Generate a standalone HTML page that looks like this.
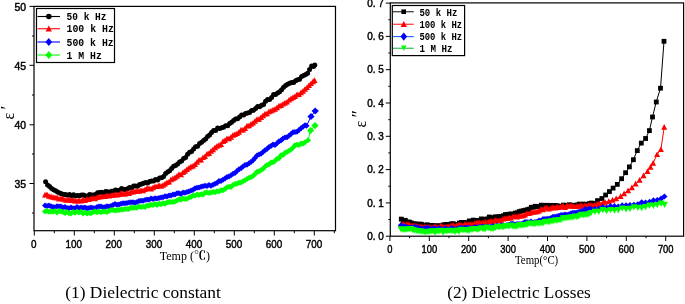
<!DOCTYPE html>
<html><head><meta charset="utf-8"><title>Dielectric constant and losses</title>
<style>html,body{margin:0;padding:0;background:#fff}svg{display:block}</style></head>
<body>
<svg width="685" height="304" viewBox="0 0 685 304">
<rect width="685" height="304" fill="#fff"/>
<g>
<path d="M45.6 181.8 L47.6 185.0 L49.6 186.4 L51.6 188.6 L53.6 189.7 L55.6 190.8 L57.6 192.0 L59.6 193.0 L61.6 193.8 L63.6 194.5 L65.6 194.5 L67.6 195.2 L69.6 194.6 L71.6 196.1 L73.6 194.8 L75.6 196.1 L77.6 195.5 L79.6 195.7 L81.6 194.9 L83.6 194.9 L85.6 195.9 L87.6 196.1 L89.6 194.6 L91.6 194.9 L93.6 194.9 L95.6 194.6 L97.6 192.8 L99.6 192.4 L101.6 192.3 L103.6 193.2 L105.6 191.5 L107.6 191.7 L109.6 192.3 L111.6 191.2 L113.6 191.1 L115.6 190.1 L117.6 190.4 L119.6 190.3 L121.6 188.4 L123.6 189.4 L125.6 189.5 L127.6 188.7 L129.6 187.5 L131.6 187.9 L133.6 186.0 L135.6 186.1 L137.6 186.3 L139.6 184.6 L141.6 184.0 L143.6 183.2 L145.6 182.4 L147.6 183.0 L149.6 181.6 L151.6 181.1 L153.6 180.9 L155.6 179.5 L157.6 179.9 L159.6 178.0 L161.6 177.7 L163.6 176.6 L165.6 173.5 L167.6 172.1 L169.6 170.8 L171.6 168.6 L173.6 166.2 L175.6 165.4 L177.6 163.9 L179.6 161.9 L181.6 161.0 L183.6 158.6 L185.6 157.5 L187.6 154.2 L189.6 152.3 L191.6 151.6 L193.6 148.9 L195.6 146.7 L197.6 146.2 L199.6 143.4 L201.6 142.3 L203.6 140.5 L205.6 138.9 L207.6 136.6 L209.6 135.0 L211.6 132.4 L213.6 130.6 L215.6 130.4 L217.6 128.1 L219.6 128.6 L221.6 127.7 L223.6 127.3 L225.6 125.7 L227.6 125.8 L229.6 123.5 L231.6 122.3 L233.6 120.6 L235.6 118.9 L237.6 118.7 L239.6 117.1 L241.6 115.0 L243.6 115.1 L245.6 113.6 L247.6 113.0 L249.6 112.6 L251.6 110.5 L253.6 110.3 L255.6 108.6 L257.6 106.4 L259.6 106.8 L261.6 105.2 L263.6 104.4 L265.6 101.3 L267.6 99.6 L269.6 99.4 L271.6 97.4 L273.6 94.6 L275.6 94.4 L277.6 92.9 L279.6 91.7 L281.6 89.8 L283.6 87.2 L285.6 85.6 L287.6 84.3 L289.6 83.2 L291.6 82.5 L293.6 82.5 L295.6 80.8 L297.6 79.7 L299.6 79.2 L301.6 76.5 L303.6 75.5 L305.6 74.6 L307.6 73.2 L309.6 69.4 L311.6 66.1 L313.6 66.6 L314.8 65.0" fill="none" stroke="#000" stroke-width="1"/>
<circle cx="45.6" cy="181.8" r="2.5" fill="#000"/>
<circle cx="47.6" cy="185.0" r="2.5" fill="#000"/>
<circle cx="49.6" cy="186.4" r="2.5" fill="#000"/>
<circle cx="51.6" cy="188.6" r="2.5" fill="#000"/>
<circle cx="53.6" cy="189.7" r="2.5" fill="#000"/>
<circle cx="55.6" cy="190.8" r="2.5" fill="#000"/>
<circle cx="57.6" cy="192.0" r="2.5" fill="#000"/>
<circle cx="59.6" cy="193.0" r="2.5" fill="#000"/>
<circle cx="61.6" cy="193.8" r="2.5" fill="#000"/>
<circle cx="63.6" cy="194.5" r="2.5" fill="#000"/>
<circle cx="65.6" cy="194.5" r="2.5" fill="#000"/>
<circle cx="67.6" cy="195.2" r="2.5" fill="#000"/>
<circle cx="69.6" cy="194.6" r="2.5" fill="#000"/>
<circle cx="71.6" cy="196.1" r="2.5" fill="#000"/>
<circle cx="73.6" cy="194.8" r="2.5" fill="#000"/>
<circle cx="75.6" cy="196.1" r="2.5" fill="#000"/>
<circle cx="77.6" cy="195.5" r="2.5" fill="#000"/>
<circle cx="79.6" cy="195.7" r="2.5" fill="#000"/>
<circle cx="81.6" cy="194.9" r="2.5" fill="#000"/>
<circle cx="83.6" cy="194.9" r="2.5" fill="#000"/>
<circle cx="85.6" cy="195.9" r="2.5" fill="#000"/>
<circle cx="87.6" cy="196.1" r="2.5" fill="#000"/>
<circle cx="89.6" cy="194.6" r="2.5" fill="#000"/>
<circle cx="91.6" cy="194.9" r="2.5" fill="#000"/>
<circle cx="93.6" cy="194.9" r="2.5" fill="#000"/>
<circle cx="95.6" cy="194.6" r="2.5" fill="#000"/>
<circle cx="97.6" cy="192.8" r="2.5" fill="#000"/>
<circle cx="99.6" cy="192.4" r="2.5" fill="#000"/>
<circle cx="101.6" cy="192.3" r="2.5" fill="#000"/>
<circle cx="103.6" cy="193.2" r="2.5" fill="#000"/>
<circle cx="105.6" cy="191.5" r="2.5" fill="#000"/>
<circle cx="107.6" cy="191.7" r="2.5" fill="#000"/>
<circle cx="109.6" cy="192.3" r="2.5" fill="#000"/>
<circle cx="111.6" cy="191.2" r="2.5" fill="#000"/>
<circle cx="113.6" cy="191.1" r="2.5" fill="#000"/>
<circle cx="115.6" cy="190.1" r="2.5" fill="#000"/>
<circle cx="117.6" cy="190.4" r="2.5" fill="#000"/>
<circle cx="119.6" cy="190.3" r="2.5" fill="#000"/>
<circle cx="121.6" cy="188.4" r="2.5" fill="#000"/>
<circle cx="123.6" cy="189.4" r="2.5" fill="#000"/>
<circle cx="125.6" cy="189.5" r="2.5" fill="#000"/>
<circle cx="127.6" cy="188.7" r="2.5" fill="#000"/>
<circle cx="129.6" cy="187.5" r="2.5" fill="#000"/>
<circle cx="131.6" cy="187.9" r="2.5" fill="#000"/>
<circle cx="133.6" cy="186.0" r="2.5" fill="#000"/>
<circle cx="135.6" cy="186.1" r="2.5" fill="#000"/>
<circle cx="137.6" cy="186.3" r="2.5" fill="#000"/>
<circle cx="139.6" cy="184.6" r="2.5" fill="#000"/>
<circle cx="141.6" cy="184.0" r="2.5" fill="#000"/>
<circle cx="143.6" cy="183.2" r="2.5" fill="#000"/>
<circle cx="145.6" cy="182.4" r="2.5" fill="#000"/>
<circle cx="147.6" cy="183.0" r="2.5" fill="#000"/>
<circle cx="149.6" cy="181.6" r="2.5" fill="#000"/>
<circle cx="151.6" cy="181.1" r="2.5" fill="#000"/>
<circle cx="153.6" cy="180.9" r="2.5" fill="#000"/>
<circle cx="155.6" cy="179.5" r="2.5" fill="#000"/>
<circle cx="157.6" cy="179.9" r="2.5" fill="#000"/>
<circle cx="159.6" cy="178.0" r="2.5" fill="#000"/>
<circle cx="161.6" cy="177.7" r="2.5" fill="#000"/>
<circle cx="163.6" cy="176.6" r="2.5" fill="#000"/>
<circle cx="165.6" cy="173.5" r="2.5" fill="#000"/>
<circle cx="167.6" cy="172.1" r="2.5" fill="#000"/>
<circle cx="169.6" cy="170.8" r="2.5" fill="#000"/>
<circle cx="171.6" cy="168.6" r="2.5" fill="#000"/>
<circle cx="173.6" cy="166.2" r="2.5" fill="#000"/>
<circle cx="175.6" cy="165.4" r="2.5" fill="#000"/>
<circle cx="177.6" cy="163.9" r="2.5" fill="#000"/>
<circle cx="179.6" cy="161.9" r="2.5" fill="#000"/>
<circle cx="181.6" cy="161.0" r="2.5" fill="#000"/>
<circle cx="183.6" cy="158.6" r="2.5" fill="#000"/>
<circle cx="185.6" cy="157.5" r="2.5" fill="#000"/>
<circle cx="187.6" cy="154.2" r="2.5" fill="#000"/>
<circle cx="189.6" cy="152.3" r="2.5" fill="#000"/>
<circle cx="191.6" cy="151.6" r="2.5" fill="#000"/>
<circle cx="193.6" cy="148.9" r="2.5" fill="#000"/>
<circle cx="195.6" cy="146.7" r="2.5" fill="#000"/>
<circle cx="197.6" cy="146.2" r="2.5" fill="#000"/>
<circle cx="199.6" cy="143.4" r="2.5" fill="#000"/>
<circle cx="201.6" cy="142.3" r="2.5" fill="#000"/>
<circle cx="203.6" cy="140.5" r="2.5" fill="#000"/>
<circle cx="205.6" cy="138.9" r="2.5" fill="#000"/>
<circle cx="207.6" cy="136.6" r="2.5" fill="#000"/>
<circle cx="209.6" cy="135.0" r="2.5" fill="#000"/>
<circle cx="211.6" cy="132.4" r="2.5" fill="#000"/>
<circle cx="213.6" cy="130.6" r="2.5" fill="#000"/>
<circle cx="215.6" cy="130.4" r="2.5" fill="#000"/>
<circle cx="217.6" cy="128.1" r="2.5" fill="#000"/>
<circle cx="219.6" cy="128.6" r="2.5" fill="#000"/>
<circle cx="221.6" cy="127.7" r="2.5" fill="#000"/>
<circle cx="223.6" cy="127.3" r="2.5" fill="#000"/>
<circle cx="225.6" cy="125.7" r="2.5" fill="#000"/>
<circle cx="227.6" cy="125.8" r="2.5" fill="#000"/>
<circle cx="229.6" cy="123.5" r="2.5" fill="#000"/>
<circle cx="231.6" cy="122.3" r="2.5" fill="#000"/>
<circle cx="233.6" cy="120.6" r="2.5" fill="#000"/>
<circle cx="235.6" cy="118.9" r="2.5" fill="#000"/>
<circle cx="237.6" cy="118.7" r="2.5" fill="#000"/>
<circle cx="239.6" cy="117.1" r="2.5" fill="#000"/>
<circle cx="241.6" cy="115.0" r="2.5" fill="#000"/>
<circle cx="243.6" cy="115.1" r="2.5" fill="#000"/>
<circle cx="245.6" cy="113.6" r="2.5" fill="#000"/>
<circle cx="247.6" cy="113.0" r="2.5" fill="#000"/>
<circle cx="249.6" cy="112.6" r="2.5" fill="#000"/>
<circle cx="251.6" cy="110.5" r="2.5" fill="#000"/>
<circle cx="253.6" cy="110.3" r="2.5" fill="#000"/>
<circle cx="255.6" cy="108.6" r="2.5" fill="#000"/>
<circle cx="257.6" cy="106.4" r="2.5" fill="#000"/>
<circle cx="259.6" cy="106.8" r="2.5" fill="#000"/>
<circle cx="261.6" cy="105.2" r="2.5" fill="#000"/>
<circle cx="263.6" cy="104.4" r="2.5" fill="#000"/>
<circle cx="265.6" cy="101.3" r="2.5" fill="#000"/>
<circle cx="267.6" cy="99.6" r="2.5" fill="#000"/>
<circle cx="269.6" cy="99.4" r="2.5" fill="#000"/>
<circle cx="271.6" cy="97.4" r="2.5" fill="#000"/>
<circle cx="273.6" cy="94.6" r="2.5" fill="#000"/>
<circle cx="275.6" cy="94.4" r="2.5" fill="#000"/>
<circle cx="277.6" cy="92.9" r="2.5" fill="#000"/>
<circle cx="279.6" cy="91.7" r="2.5" fill="#000"/>
<circle cx="281.6" cy="89.8" r="2.5" fill="#000"/>
<circle cx="283.6" cy="87.2" r="2.5" fill="#000"/>
<circle cx="285.6" cy="85.6" r="2.5" fill="#000"/>
<circle cx="287.6" cy="84.3" r="2.5" fill="#000"/>
<circle cx="289.6" cy="83.2" r="2.5" fill="#000"/>
<circle cx="291.6" cy="82.5" r="2.5" fill="#000"/>
<circle cx="293.6" cy="82.5" r="2.5" fill="#000"/>
<circle cx="295.6" cy="80.8" r="2.5" fill="#000"/>
<circle cx="297.6" cy="79.7" r="2.5" fill="#000"/>
<circle cx="299.6" cy="79.2" r="2.5" fill="#000"/>
<circle cx="301.6" cy="76.5" r="2.5" fill="#000"/>
<circle cx="303.6" cy="75.5" r="2.5" fill="#000"/>
<circle cx="305.6" cy="74.6" r="2.5" fill="#000"/>
<circle cx="307.6" cy="73.2" r="2.5" fill="#000"/>
<circle cx="309.6" cy="69.4" r="2.5" fill="#000"/>
<circle cx="311.6" cy="66.1" r="2.5" fill="#000"/>
<circle cx="313.6" cy="66.6" r="2.5" fill="#000"/>
<circle cx="314.8" cy="65.0" r="2.5" fill="#000"/>
<path d="M45.0 194.7 L47.0 194.5 L49.0 196.1 L51.0 196.5 L53.0 197.1 L55.0 197.5 L57.0 197.6 L59.0 198.7 L61.0 198.4 L63.0 198.7 L65.0 199.7 L67.0 199.9 L69.0 199.5 L71.0 200.3 L73.0 199.7 L75.0 200.8 L77.0 200.9 L79.0 200.3 L81.0 200.9 L83.0 199.5 L85.0 200.3 L87.0 199.1 L89.0 199.4 L91.0 198.4 L93.0 198.0 L95.0 198.5 L97.0 197.4 L99.0 196.8 L101.0 196.6 L103.0 196.4 L105.0 196.2 L107.0 195.4 L109.0 195.9 L111.0 195.3 L113.0 195.0 L115.0 194.5 L117.0 194.9 L119.0 194.2 L121.0 193.1 L123.0 193.8 L125.0 193.9 L127.0 192.8 L129.0 193.2 L131.0 191.8 L133.0 191.8 L135.0 191.2 L137.0 190.8 L139.0 191.0 L141.0 190.2 L143.0 190.5 L145.0 189.4 L147.0 188.1 L149.0 188.3 L151.0 188.7 L153.0 187.5 L155.0 186.4 L157.0 186.4 L159.0 185.3 L161.0 186.0 L163.0 185.0 L165.0 183.7 L167.0 182.4 L169.0 181.8 L171.0 179.6 L173.0 178.5 L175.0 177.6 L177.0 176.1 L179.0 174.2 L181.0 174.6 L183.0 172.3 L185.0 171.0 L187.0 169.2 L189.0 167.7 L191.0 166.5 L193.0 165.8 L195.0 164.2 L197.0 162.1 L199.0 159.9 L201.0 159.8 L203.0 157.4 L205.0 156.4 L207.0 153.7 L209.0 153.2 L211.0 151.0 L213.0 149.5 L215.0 147.6 L217.0 146.1 L219.0 145.0 L221.0 144.3 L223.0 141.3 L225.0 140.2 L227.0 138.4 L229.0 138.5 L231.0 137.1 L233.0 135.1 L235.0 134.2 L237.0 133.4 L239.0 132.1 L241.0 129.8 L243.0 129.7 L245.0 128.2 L247.0 125.7 L249.0 125.6 L251.0 124.1 L253.0 122.9 L255.0 121.1 L257.0 119.2 L259.0 119.1 L261.0 117.2 L263.0 115.5 L265.0 113.8 L267.0 113.6 L269.0 111.6 L271.0 110.8 L273.0 109.8 L275.0 109.1 L277.0 107.6 L279.0 105.7 L281.0 105.3 L283.0 103.9 L285.0 102.8 L287.0 101.9 L289.0 99.9 L291.0 98.6 L293.0 97.2 L295.0 96.3 L297.0 94.5 L299.0 94.4 L301.0 92.5 L303.0 91.1 L305.0 89.1 L307.0 87.4 L309.0 85.3 L311.0 83.4 L313.0 81.6 L314.5 80.2" fill="none" stroke="#ff0000" stroke-width="1"/>
<path d="M45.0 191.7L48.0 197.4L42.0 197.4Z" fill="#ff0000"/>
<path d="M47.0 191.5L50.0 197.2L44.0 197.2Z" fill="#ff0000"/>
<path d="M49.0 193.1L52.0 198.8L46.0 198.8Z" fill="#ff0000"/>
<path d="M51.0 193.5L54.0 199.2L48.0 199.2Z" fill="#ff0000"/>
<path d="M53.0 194.1L56.0 199.8L50.0 199.8Z" fill="#ff0000"/>
<path d="M55.0 194.5L58.0 200.2L52.0 200.2Z" fill="#ff0000"/>
<path d="M57.0 194.6L60.0 200.3L54.0 200.3Z" fill="#ff0000"/>
<path d="M59.0 195.7L62.0 201.4L56.0 201.4Z" fill="#ff0000"/>
<path d="M61.0 195.4L64.0 201.1L58.0 201.1Z" fill="#ff0000"/>
<path d="M63.0 195.7L66.0 201.4L60.0 201.4Z" fill="#ff0000"/>
<path d="M65.0 196.7L68.0 202.4L62.0 202.4Z" fill="#ff0000"/>
<path d="M67.0 196.9L70.0 202.6L64.0 202.6Z" fill="#ff0000"/>
<path d="M69.0 196.5L72.0 202.2L66.0 202.2Z" fill="#ff0000"/>
<path d="M71.0 197.3L74.0 203.0L68.0 203.0Z" fill="#ff0000"/>
<path d="M73.0 196.7L76.0 202.4L70.0 202.4Z" fill="#ff0000"/>
<path d="M75.0 197.8L78.0 203.5L72.0 203.5Z" fill="#ff0000"/>
<path d="M77.0 197.9L80.0 203.6L74.0 203.6Z" fill="#ff0000"/>
<path d="M79.0 197.3L82.0 203.0L76.0 203.0Z" fill="#ff0000"/>
<path d="M81.0 197.9L84.0 203.6L78.0 203.6Z" fill="#ff0000"/>
<path d="M83.0 196.5L86.0 202.2L80.0 202.2Z" fill="#ff0000"/>
<path d="M85.0 197.3L88.0 203.0L82.0 203.0Z" fill="#ff0000"/>
<path d="M87.0 196.1L90.0 201.8L84.0 201.8Z" fill="#ff0000"/>
<path d="M89.0 196.4L92.0 202.1L86.0 202.1Z" fill="#ff0000"/>
<path d="M91.0 195.4L94.0 201.1L88.0 201.1Z" fill="#ff0000"/>
<path d="M93.0 195.0L96.0 200.7L90.0 200.7Z" fill="#ff0000"/>
<path d="M95.0 195.5L98.0 201.2L92.0 201.2Z" fill="#ff0000"/>
<path d="M97.0 194.4L100.0 200.1L94.0 200.1Z" fill="#ff0000"/>
<path d="M99.0 193.8L102.0 199.5L96.0 199.5Z" fill="#ff0000"/>
<path d="M101.0 193.6L104.0 199.3L98.0 199.3Z" fill="#ff0000"/>
<path d="M103.0 193.4L106.0 199.1L100.0 199.1Z" fill="#ff0000"/>
<path d="M105.0 193.2L108.0 198.9L102.0 198.9Z" fill="#ff0000"/>
<path d="M107.0 192.4L110.0 198.1L104.0 198.1Z" fill="#ff0000"/>
<path d="M109.0 192.9L112.0 198.6L106.0 198.6Z" fill="#ff0000"/>
<path d="M111.0 192.3L114.0 198.0L108.0 198.0Z" fill="#ff0000"/>
<path d="M113.0 192.0L116.0 197.7L110.0 197.7Z" fill="#ff0000"/>
<path d="M115.0 191.5L118.0 197.2L112.0 197.2Z" fill="#ff0000"/>
<path d="M117.0 191.9L120.0 197.6L114.0 197.6Z" fill="#ff0000"/>
<path d="M119.0 191.2L122.0 196.9L116.0 196.9Z" fill="#ff0000"/>
<path d="M121.0 190.1L124.0 195.8L118.0 195.8Z" fill="#ff0000"/>
<path d="M123.0 190.8L126.0 196.5L120.0 196.5Z" fill="#ff0000"/>
<path d="M125.0 190.9L128.0 196.6L122.0 196.6Z" fill="#ff0000"/>
<path d="M127.0 189.8L130.0 195.5L124.0 195.5Z" fill="#ff0000"/>
<path d="M129.0 190.2L132.0 195.9L126.0 195.9Z" fill="#ff0000"/>
<path d="M131.0 188.8L134.0 194.5L128.0 194.5Z" fill="#ff0000"/>
<path d="M133.0 188.8L136.0 194.5L130.0 194.5Z" fill="#ff0000"/>
<path d="M135.0 188.2L138.0 193.9L132.0 193.9Z" fill="#ff0000"/>
<path d="M137.0 187.8L140.0 193.5L134.0 193.5Z" fill="#ff0000"/>
<path d="M139.0 188.0L142.0 193.7L136.0 193.7Z" fill="#ff0000"/>
<path d="M141.0 187.2L144.0 192.9L138.0 192.9Z" fill="#ff0000"/>
<path d="M143.0 187.5L146.0 193.2L140.0 193.2Z" fill="#ff0000"/>
<path d="M145.0 186.4L148.0 192.1L142.0 192.1Z" fill="#ff0000"/>
<path d="M147.0 185.1L150.0 190.8L144.0 190.8Z" fill="#ff0000"/>
<path d="M149.0 185.3L152.0 191.0L146.0 191.0Z" fill="#ff0000"/>
<path d="M151.0 185.7L154.0 191.4L148.0 191.4Z" fill="#ff0000"/>
<path d="M153.0 184.5L156.0 190.2L150.0 190.2Z" fill="#ff0000"/>
<path d="M155.0 183.4L158.0 189.1L152.0 189.1Z" fill="#ff0000"/>
<path d="M157.0 183.4L160.0 189.1L154.0 189.1Z" fill="#ff0000"/>
<path d="M159.0 182.3L162.0 188.0L156.0 188.0Z" fill="#ff0000"/>
<path d="M161.0 183.0L164.0 188.7L158.0 188.7Z" fill="#ff0000"/>
<path d="M163.0 182.0L166.0 187.7L160.0 187.7Z" fill="#ff0000"/>
<path d="M165.0 180.7L168.0 186.4L162.0 186.4Z" fill="#ff0000"/>
<path d="M167.0 179.4L170.0 185.1L164.0 185.1Z" fill="#ff0000"/>
<path d="M169.0 178.8L172.0 184.5L166.0 184.5Z" fill="#ff0000"/>
<path d="M171.0 176.6L174.0 182.3L168.0 182.3Z" fill="#ff0000"/>
<path d="M173.0 175.5L176.0 181.2L170.0 181.2Z" fill="#ff0000"/>
<path d="M175.0 174.6L178.0 180.3L172.0 180.3Z" fill="#ff0000"/>
<path d="M177.0 173.1L180.0 178.8L174.0 178.8Z" fill="#ff0000"/>
<path d="M179.0 171.2L182.0 176.9L176.0 176.9Z" fill="#ff0000"/>
<path d="M181.0 171.6L184.0 177.3L178.0 177.3Z" fill="#ff0000"/>
<path d="M183.0 169.3L186.0 175.0L180.0 175.0Z" fill="#ff0000"/>
<path d="M185.0 168.0L188.0 173.7L182.0 173.7Z" fill="#ff0000"/>
<path d="M187.0 166.2L190.0 171.9L184.0 171.9Z" fill="#ff0000"/>
<path d="M189.0 164.7L192.0 170.4L186.0 170.4Z" fill="#ff0000"/>
<path d="M191.0 163.5L194.0 169.2L188.0 169.2Z" fill="#ff0000"/>
<path d="M193.0 162.8L196.0 168.5L190.0 168.5Z" fill="#ff0000"/>
<path d="M195.0 161.2L198.0 166.9L192.0 166.9Z" fill="#ff0000"/>
<path d="M197.0 159.1L200.0 164.8L194.0 164.8Z" fill="#ff0000"/>
<path d="M199.0 156.9L202.0 162.6L196.0 162.6Z" fill="#ff0000"/>
<path d="M201.0 156.8L204.0 162.5L198.0 162.5Z" fill="#ff0000"/>
<path d="M203.0 154.4L206.0 160.1L200.0 160.1Z" fill="#ff0000"/>
<path d="M205.0 153.4L208.0 159.1L202.0 159.1Z" fill="#ff0000"/>
<path d="M207.0 150.7L210.0 156.4L204.0 156.4Z" fill="#ff0000"/>
<path d="M209.0 150.2L212.0 155.9L206.0 155.9Z" fill="#ff0000"/>
<path d="M211.0 148.0L214.0 153.7L208.0 153.7Z" fill="#ff0000"/>
<path d="M213.0 146.5L216.0 152.2L210.0 152.2Z" fill="#ff0000"/>
<path d="M215.0 144.6L218.0 150.3L212.0 150.3Z" fill="#ff0000"/>
<path d="M217.0 143.1L220.0 148.8L214.0 148.8Z" fill="#ff0000"/>
<path d="M219.0 142.0L222.0 147.7L216.0 147.7Z" fill="#ff0000"/>
<path d="M221.0 141.3L224.0 147.0L218.0 147.0Z" fill="#ff0000"/>
<path d="M223.0 138.3L226.0 144.0L220.0 144.0Z" fill="#ff0000"/>
<path d="M225.0 137.2L228.0 142.9L222.0 142.9Z" fill="#ff0000"/>
<path d="M227.0 135.4L230.0 141.1L224.0 141.1Z" fill="#ff0000"/>
<path d="M229.0 135.5L232.0 141.2L226.0 141.2Z" fill="#ff0000"/>
<path d="M231.0 134.1L234.0 139.8L228.0 139.8Z" fill="#ff0000"/>
<path d="M233.0 132.1L236.0 137.8L230.0 137.8Z" fill="#ff0000"/>
<path d="M235.0 131.2L238.0 136.9L232.0 136.9Z" fill="#ff0000"/>
<path d="M237.0 130.4L240.0 136.1L234.0 136.1Z" fill="#ff0000"/>
<path d="M239.0 129.1L242.0 134.8L236.0 134.8Z" fill="#ff0000"/>
<path d="M241.0 126.8L244.0 132.5L238.0 132.5Z" fill="#ff0000"/>
<path d="M243.0 126.7L246.0 132.4L240.0 132.4Z" fill="#ff0000"/>
<path d="M245.0 125.2L248.0 130.9L242.0 130.9Z" fill="#ff0000"/>
<path d="M247.0 122.7L250.0 128.4L244.0 128.4Z" fill="#ff0000"/>
<path d="M249.0 122.6L252.0 128.3L246.0 128.3Z" fill="#ff0000"/>
<path d="M251.0 121.1L254.0 126.8L248.0 126.8Z" fill="#ff0000"/>
<path d="M253.0 119.9L256.0 125.6L250.0 125.6Z" fill="#ff0000"/>
<path d="M255.0 118.1L258.0 123.8L252.0 123.8Z" fill="#ff0000"/>
<path d="M257.0 116.2L260.0 121.9L254.0 121.9Z" fill="#ff0000"/>
<path d="M259.0 116.1L262.0 121.8L256.0 121.8Z" fill="#ff0000"/>
<path d="M261.0 114.2L264.0 119.9L258.0 119.9Z" fill="#ff0000"/>
<path d="M263.0 112.5L266.0 118.2L260.0 118.2Z" fill="#ff0000"/>
<path d="M265.0 110.8L268.0 116.5L262.0 116.5Z" fill="#ff0000"/>
<path d="M267.0 110.6L270.0 116.3L264.0 116.3Z" fill="#ff0000"/>
<path d="M269.0 108.6L272.0 114.3L266.0 114.3Z" fill="#ff0000"/>
<path d="M271.0 107.8L274.0 113.5L268.0 113.5Z" fill="#ff0000"/>
<path d="M273.0 106.8L276.0 112.5L270.0 112.5Z" fill="#ff0000"/>
<path d="M275.0 106.1L278.0 111.8L272.0 111.8Z" fill="#ff0000"/>
<path d="M277.0 104.6L280.0 110.3L274.0 110.3Z" fill="#ff0000"/>
<path d="M279.0 102.7L282.0 108.4L276.0 108.4Z" fill="#ff0000"/>
<path d="M281.0 102.3L284.0 108.0L278.0 108.0Z" fill="#ff0000"/>
<path d="M283.0 100.9L286.0 106.6L280.0 106.6Z" fill="#ff0000"/>
<path d="M285.0 99.8L288.0 105.5L282.0 105.5Z" fill="#ff0000"/>
<path d="M287.0 98.9L290.0 104.6L284.0 104.6Z" fill="#ff0000"/>
<path d="M289.0 96.9L292.0 102.6L286.0 102.6Z" fill="#ff0000"/>
<path d="M291.0 95.6L294.0 101.3L288.0 101.3Z" fill="#ff0000"/>
<path d="M293.0 94.2L296.0 99.9L290.0 99.9Z" fill="#ff0000"/>
<path d="M295.0 93.3L298.0 99.0L292.0 99.0Z" fill="#ff0000"/>
<path d="M297.0 91.5L300.0 97.2L294.0 97.2Z" fill="#ff0000"/>
<path d="M299.0 91.4L302.0 97.1L296.0 97.1Z" fill="#ff0000"/>
<path d="M301.0 89.5L304.0 95.2L298.0 95.2Z" fill="#ff0000"/>
<path d="M303.0 88.1L306.0 93.8L300.0 93.8Z" fill="#ff0000"/>
<path d="M305.0 86.1L308.0 91.8L302.0 91.8Z" fill="#ff0000"/>
<path d="M307.0 84.4L310.0 90.1L304.0 90.1Z" fill="#ff0000"/>
<path d="M309.0 82.3L312.0 88.0L306.0 88.0Z" fill="#ff0000"/>
<path d="M311.0 80.4L314.0 86.1L308.0 86.1Z" fill="#ff0000"/>
<path d="M313.0 78.6L316.0 84.3L310.0 84.3Z" fill="#ff0000"/>
<path d="M314.5 77.2L317.5 82.9L311.5 82.9Z" fill="#ff0000"/>
<path d="M45.0 205.6 L47.0 206.1 L49.0 205.6 L51.0 206.2 L53.0 207.1 L55.0 207.3 L57.0 206.2 L59.0 206.5 L61.0 206.5 L63.0 207.4 L65.0 206.9 L67.0 207.9 L69.0 208.3 L71.0 207.6 L73.0 208.3 L75.0 208.2 L77.0 207.1 L79.0 208.1 L81.0 207.6 L83.0 207.8 L85.0 207.6 L87.0 208.3 L89.0 207.9 L91.0 207.4 L93.0 208.0 L95.0 208.2 L97.0 207.0 L99.0 206.6 L101.0 206.6 L103.0 207.3 L105.0 207.1 L107.0 206.3 L109.0 206.4 L111.0 206.0 L113.0 204.9 L115.0 204.1 L117.0 204.8 L119.0 204.4 L121.0 203.8 L123.0 203.2 L125.0 203.3 L127.0 203.1 L129.0 202.5 L131.0 202.2 L133.0 202.3 L135.0 202.7 L137.0 201.9 L139.0 201.1 L141.0 200.8 L143.0 200.8 L145.0 200.0 L147.0 199.6 L149.0 199.7 L151.0 198.6 L153.0 198.9 L155.0 198.3 L157.0 198.5 L159.0 198.1 L161.0 197.6 L163.0 197.2 L165.0 196.3 L167.0 196.4 L169.0 195.4 L171.0 195.4 L173.0 194.6 L175.0 194.4 L177.0 193.3 L179.0 193.2 L181.0 194.1 L183.0 192.4 L185.0 192.8 L187.0 192.1 L189.0 191.5 L191.0 190.4 L193.0 189.9 L195.0 188.2 L197.0 187.7 L199.0 187.4 L201.0 186.8 L203.0 186.2 L205.0 185.8 L207.0 186.0 L209.0 184.9 L211.0 185.7 L213.0 184.7 L215.0 183.7 L217.0 182.9 L219.0 181.0 L221.0 181.1 L223.0 179.8 L225.0 178.5 L227.0 177.0 L229.0 176.5 L231.0 175.2 L233.0 173.7 L235.0 172.9 L237.0 171.1 L239.0 169.3 L241.0 168.3 L243.0 166.4 L245.0 165.1 L247.0 164.7 L249.0 163.2 L251.0 161.9 L253.0 160.2 L255.0 158.0 L257.0 155.5 L259.0 154.6 L261.0 153.7 L263.0 152.1 L265.0 150.2 L267.0 148.9 L269.0 147.1 L271.0 145.9 L273.0 144.6 L275.0 144.9 L277.0 143.3 L279.0 141.3 L281.0 140.5 L283.0 138.6 L285.0 137.6 L287.0 137.2 L289.0 135.7 L291.0 134.0 L293.0 132.2 L295.0 131.9 L297.0 131.7 L299.0 130.0 L301.0 128.2 L303.0 126.7 L305.0 125.3 L306.5 125.8 L311.0 116.5 L315.2 111.0" fill="none" stroke="#0000ff" stroke-width="1"/>
<path d="M45.0 202.6L48.0 205.6L45.0 208.6L42.0 205.6Z" fill="#0000ff"/>
<path d="M47.0 203.1L50.0 206.1L47.0 209.1L44.0 206.1Z" fill="#0000ff"/>
<path d="M49.0 202.6L52.0 205.6L49.0 208.6L46.0 205.6Z" fill="#0000ff"/>
<path d="M51.0 203.2L54.0 206.2L51.0 209.2L48.0 206.2Z" fill="#0000ff"/>
<path d="M53.0 204.1L56.0 207.1L53.0 210.1L50.0 207.1Z" fill="#0000ff"/>
<path d="M55.0 204.3L58.0 207.3L55.0 210.3L52.0 207.3Z" fill="#0000ff"/>
<path d="M57.0 203.2L60.0 206.2L57.0 209.2L54.0 206.2Z" fill="#0000ff"/>
<path d="M59.0 203.5L62.0 206.5L59.0 209.5L56.0 206.5Z" fill="#0000ff"/>
<path d="M61.0 203.5L64.0 206.5L61.0 209.5L58.0 206.5Z" fill="#0000ff"/>
<path d="M63.0 204.4L66.0 207.4L63.0 210.4L60.0 207.4Z" fill="#0000ff"/>
<path d="M65.0 203.9L68.0 206.9L65.0 209.9L62.0 206.9Z" fill="#0000ff"/>
<path d="M67.0 204.9L70.0 207.9L67.0 210.9L64.0 207.9Z" fill="#0000ff"/>
<path d="M69.0 205.3L72.0 208.3L69.0 211.3L66.0 208.3Z" fill="#0000ff"/>
<path d="M71.0 204.6L74.0 207.6L71.0 210.6L68.0 207.6Z" fill="#0000ff"/>
<path d="M73.0 205.3L76.0 208.3L73.0 211.3L70.0 208.3Z" fill="#0000ff"/>
<path d="M75.0 205.2L78.0 208.2L75.0 211.2L72.0 208.2Z" fill="#0000ff"/>
<path d="M77.0 204.1L80.0 207.1L77.0 210.1L74.0 207.1Z" fill="#0000ff"/>
<path d="M79.0 205.1L82.0 208.1L79.0 211.1L76.0 208.1Z" fill="#0000ff"/>
<path d="M81.0 204.6L84.0 207.6L81.0 210.6L78.0 207.6Z" fill="#0000ff"/>
<path d="M83.0 204.8L86.0 207.8L83.0 210.8L80.0 207.8Z" fill="#0000ff"/>
<path d="M85.0 204.6L88.0 207.6L85.0 210.6L82.0 207.6Z" fill="#0000ff"/>
<path d="M87.0 205.3L90.0 208.3L87.0 211.3L84.0 208.3Z" fill="#0000ff"/>
<path d="M89.0 204.9L92.0 207.9L89.0 210.9L86.0 207.9Z" fill="#0000ff"/>
<path d="M91.0 204.4L94.0 207.4L91.0 210.4L88.0 207.4Z" fill="#0000ff"/>
<path d="M93.0 205.0L96.0 208.0L93.0 211.0L90.0 208.0Z" fill="#0000ff"/>
<path d="M95.0 205.2L98.0 208.2L95.0 211.2L92.0 208.2Z" fill="#0000ff"/>
<path d="M97.0 204.0L100.0 207.0L97.0 210.0L94.0 207.0Z" fill="#0000ff"/>
<path d="M99.0 203.6L102.0 206.6L99.0 209.6L96.0 206.6Z" fill="#0000ff"/>
<path d="M101.0 203.6L104.0 206.6L101.0 209.6L98.0 206.6Z" fill="#0000ff"/>
<path d="M103.0 204.3L106.0 207.3L103.0 210.3L100.0 207.3Z" fill="#0000ff"/>
<path d="M105.0 204.1L108.0 207.1L105.0 210.1L102.0 207.1Z" fill="#0000ff"/>
<path d="M107.0 203.3L110.0 206.3L107.0 209.3L104.0 206.3Z" fill="#0000ff"/>
<path d="M109.0 203.4L112.0 206.4L109.0 209.4L106.0 206.4Z" fill="#0000ff"/>
<path d="M111.0 203.0L114.0 206.0L111.0 209.0L108.0 206.0Z" fill="#0000ff"/>
<path d="M113.0 201.9L116.0 204.9L113.0 207.9L110.0 204.9Z" fill="#0000ff"/>
<path d="M115.0 201.1L118.0 204.1L115.0 207.1L112.0 204.1Z" fill="#0000ff"/>
<path d="M117.0 201.8L120.0 204.8L117.0 207.8L114.0 204.8Z" fill="#0000ff"/>
<path d="M119.0 201.4L122.0 204.4L119.0 207.4L116.0 204.4Z" fill="#0000ff"/>
<path d="M121.0 200.8L124.0 203.8L121.0 206.8L118.0 203.8Z" fill="#0000ff"/>
<path d="M123.0 200.2L126.0 203.2L123.0 206.2L120.0 203.2Z" fill="#0000ff"/>
<path d="M125.0 200.3L128.0 203.3L125.0 206.3L122.0 203.3Z" fill="#0000ff"/>
<path d="M127.0 200.1L130.0 203.1L127.0 206.1L124.0 203.1Z" fill="#0000ff"/>
<path d="M129.0 199.5L132.0 202.5L129.0 205.5L126.0 202.5Z" fill="#0000ff"/>
<path d="M131.0 199.2L134.0 202.2L131.0 205.2L128.0 202.2Z" fill="#0000ff"/>
<path d="M133.0 199.3L136.0 202.3L133.0 205.3L130.0 202.3Z" fill="#0000ff"/>
<path d="M135.0 199.7L138.0 202.7L135.0 205.7L132.0 202.7Z" fill="#0000ff"/>
<path d="M137.0 198.9L140.0 201.9L137.0 204.9L134.0 201.9Z" fill="#0000ff"/>
<path d="M139.0 198.1L142.0 201.1L139.0 204.1L136.0 201.1Z" fill="#0000ff"/>
<path d="M141.0 197.8L144.0 200.8L141.0 203.8L138.0 200.8Z" fill="#0000ff"/>
<path d="M143.0 197.8L146.0 200.8L143.0 203.8L140.0 200.8Z" fill="#0000ff"/>
<path d="M145.0 197.0L148.0 200.0L145.0 203.0L142.0 200.0Z" fill="#0000ff"/>
<path d="M147.0 196.6L150.0 199.6L147.0 202.6L144.0 199.6Z" fill="#0000ff"/>
<path d="M149.0 196.7L152.0 199.7L149.0 202.7L146.0 199.7Z" fill="#0000ff"/>
<path d="M151.0 195.6L154.0 198.6L151.0 201.6L148.0 198.6Z" fill="#0000ff"/>
<path d="M153.0 195.9L156.0 198.9L153.0 201.9L150.0 198.9Z" fill="#0000ff"/>
<path d="M155.0 195.3L158.0 198.3L155.0 201.3L152.0 198.3Z" fill="#0000ff"/>
<path d="M157.0 195.5L160.0 198.5L157.0 201.5L154.0 198.5Z" fill="#0000ff"/>
<path d="M159.0 195.1L162.0 198.1L159.0 201.1L156.0 198.1Z" fill="#0000ff"/>
<path d="M161.0 194.6L164.0 197.6L161.0 200.6L158.0 197.6Z" fill="#0000ff"/>
<path d="M163.0 194.2L166.0 197.2L163.0 200.2L160.0 197.2Z" fill="#0000ff"/>
<path d="M165.0 193.3L168.0 196.3L165.0 199.3L162.0 196.3Z" fill="#0000ff"/>
<path d="M167.0 193.4L170.0 196.4L167.0 199.4L164.0 196.4Z" fill="#0000ff"/>
<path d="M169.0 192.4L172.0 195.4L169.0 198.4L166.0 195.4Z" fill="#0000ff"/>
<path d="M171.0 192.4L174.0 195.4L171.0 198.4L168.0 195.4Z" fill="#0000ff"/>
<path d="M173.0 191.6L176.0 194.6L173.0 197.6L170.0 194.6Z" fill="#0000ff"/>
<path d="M175.0 191.4L178.0 194.4L175.0 197.4L172.0 194.4Z" fill="#0000ff"/>
<path d="M177.0 190.3L180.0 193.3L177.0 196.3L174.0 193.3Z" fill="#0000ff"/>
<path d="M179.0 190.2L182.0 193.2L179.0 196.2L176.0 193.2Z" fill="#0000ff"/>
<path d="M181.0 191.1L184.0 194.1L181.0 197.1L178.0 194.1Z" fill="#0000ff"/>
<path d="M183.0 189.4L186.0 192.4L183.0 195.4L180.0 192.4Z" fill="#0000ff"/>
<path d="M185.0 189.8L188.0 192.8L185.0 195.8L182.0 192.8Z" fill="#0000ff"/>
<path d="M187.0 189.1L190.0 192.1L187.0 195.1L184.0 192.1Z" fill="#0000ff"/>
<path d="M189.0 188.5L192.0 191.5L189.0 194.5L186.0 191.5Z" fill="#0000ff"/>
<path d="M191.0 187.4L194.0 190.4L191.0 193.4L188.0 190.4Z" fill="#0000ff"/>
<path d="M193.0 186.9L196.0 189.9L193.0 192.9L190.0 189.9Z" fill="#0000ff"/>
<path d="M195.0 185.2L198.0 188.2L195.0 191.2L192.0 188.2Z" fill="#0000ff"/>
<path d="M197.0 184.7L200.0 187.7L197.0 190.7L194.0 187.7Z" fill="#0000ff"/>
<path d="M199.0 184.4L202.0 187.4L199.0 190.4L196.0 187.4Z" fill="#0000ff"/>
<path d="M201.0 183.8L204.0 186.8L201.0 189.8L198.0 186.8Z" fill="#0000ff"/>
<path d="M203.0 183.2L206.0 186.2L203.0 189.2L200.0 186.2Z" fill="#0000ff"/>
<path d="M205.0 182.8L208.0 185.8L205.0 188.8L202.0 185.8Z" fill="#0000ff"/>
<path d="M207.0 183.0L210.0 186.0L207.0 189.0L204.0 186.0Z" fill="#0000ff"/>
<path d="M209.0 181.9L212.0 184.9L209.0 187.9L206.0 184.9Z" fill="#0000ff"/>
<path d="M211.0 182.7L214.0 185.7L211.0 188.7L208.0 185.7Z" fill="#0000ff"/>
<path d="M213.0 181.7L216.0 184.7L213.0 187.7L210.0 184.7Z" fill="#0000ff"/>
<path d="M215.0 180.7L218.0 183.7L215.0 186.7L212.0 183.7Z" fill="#0000ff"/>
<path d="M217.0 179.9L220.0 182.9L217.0 185.9L214.0 182.9Z" fill="#0000ff"/>
<path d="M219.0 178.0L222.0 181.0L219.0 184.0L216.0 181.0Z" fill="#0000ff"/>
<path d="M221.0 178.1L224.0 181.1L221.0 184.1L218.0 181.1Z" fill="#0000ff"/>
<path d="M223.0 176.8L226.0 179.8L223.0 182.8L220.0 179.8Z" fill="#0000ff"/>
<path d="M225.0 175.5L228.0 178.5L225.0 181.5L222.0 178.5Z" fill="#0000ff"/>
<path d="M227.0 174.0L230.0 177.0L227.0 180.0L224.0 177.0Z" fill="#0000ff"/>
<path d="M229.0 173.5L232.0 176.5L229.0 179.5L226.0 176.5Z" fill="#0000ff"/>
<path d="M231.0 172.2L234.0 175.2L231.0 178.2L228.0 175.2Z" fill="#0000ff"/>
<path d="M233.0 170.7L236.0 173.7L233.0 176.7L230.0 173.7Z" fill="#0000ff"/>
<path d="M235.0 169.9L238.0 172.9L235.0 175.9L232.0 172.9Z" fill="#0000ff"/>
<path d="M237.0 168.1L240.0 171.1L237.0 174.1L234.0 171.1Z" fill="#0000ff"/>
<path d="M239.0 166.3L242.0 169.3L239.0 172.3L236.0 169.3Z" fill="#0000ff"/>
<path d="M241.0 165.3L244.0 168.3L241.0 171.3L238.0 168.3Z" fill="#0000ff"/>
<path d="M243.0 163.4L246.0 166.4L243.0 169.4L240.0 166.4Z" fill="#0000ff"/>
<path d="M245.0 162.1L248.0 165.1L245.0 168.1L242.0 165.1Z" fill="#0000ff"/>
<path d="M247.0 161.7L250.0 164.7L247.0 167.7L244.0 164.7Z" fill="#0000ff"/>
<path d="M249.0 160.2L252.0 163.2L249.0 166.2L246.0 163.2Z" fill="#0000ff"/>
<path d="M251.0 158.9L254.0 161.9L251.0 164.9L248.0 161.9Z" fill="#0000ff"/>
<path d="M253.0 157.2L256.0 160.2L253.0 163.2L250.0 160.2Z" fill="#0000ff"/>
<path d="M255.0 155.0L258.0 158.0L255.0 161.0L252.0 158.0Z" fill="#0000ff"/>
<path d="M257.0 152.5L260.0 155.5L257.0 158.5L254.0 155.5Z" fill="#0000ff"/>
<path d="M259.0 151.6L262.0 154.6L259.0 157.6L256.0 154.6Z" fill="#0000ff"/>
<path d="M261.0 150.7L264.0 153.7L261.0 156.7L258.0 153.7Z" fill="#0000ff"/>
<path d="M263.0 149.1L266.0 152.1L263.0 155.1L260.0 152.1Z" fill="#0000ff"/>
<path d="M265.0 147.2L268.0 150.2L265.0 153.2L262.0 150.2Z" fill="#0000ff"/>
<path d="M267.0 145.9L270.0 148.9L267.0 151.9L264.0 148.9Z" fill="#0000ff"/>
<path d="M269.0 144.1L272.0 147.1L269.0 150.1L266.0 147.1Z" fill="#0000ff"/>
<path d="M271.0 142.9L274.0 145.9L271.0 148.9L268.0 145.9Z" fill="#0000ff"/>
<path d="M273.0 141.6L276.0 144.6L273.0 147.6L270.0 144.6Z" fill="#0000ff"/>
<path d="M275.0 141.9L278.0 144.9L275.0 147.9L272.0 144.9Z" fill="#0000ff"/>
<path d="M277.0 140.3L280.0 143.3L277.0 146.3L274.0 143.3Z" fill="#0000ff"/>
<path d="M279.0 138.3L282.0 141.3L279.0 144.3L276.0 141.3Z" fill="#0000ff"/>
<path d="M281.0 137.5L284.0 140.5L281.0 143.5L278.0 140.5Z" fill="#0000ff"/>
<path d="M283.0 135.6L286.0 138.6L283.0 141.6L280.0 138.6Z" fill="#0000ff"/>
<path d="M285.0 134.6L288.0 137.6L285.0 140.6L282.0 137.6Z" fill="#0000ff"/>
<path d="M287.0 134.2L290.0 137.2L287.0 140.2L284.0 137.2Z" fill="#0000ff"/>
<path d="M289.0 132.7L292.0 135.7L289.0 138.7L286.0 135.7Z" fill="#0000ff"/>
<path d="M291.0 131.0L294.0 134.0L291.0 137.0L288.0 134.0Z" fill="#0000ff"/>
<path d="M293.0 129.2L296.0 132.2L293.0 135.2L290.0 132.2Z" fill="#0000ff"/>
<path d="M295.0 128.9L298.0 131.9L295.0 134.9L292.0 131.9Z" fill="#0000ff"/>
<path d="M297.0 128.7L300.0 131.7L297.0 134.7L294.0 131.7Z" fill="#0000ff"/>
<path d="M299.0 127.0L302.0 130.0L299.0 133.0L296.0 130.0Z" fill="#0000ff"/>
<path d="M301.0 125.2L304.0 128.2L301.0 131.2L298.0 128.2Z" fill="#0000ff"/>
<path d="M303.0 123.7L306.0 126.7L303.0 129.7L300.0 126.7Z" fill="#0000ff"/>
<path d="M305.0 122.3L308.0 125.3L305.0 128.3L302.0 125.3Z" fill="#0000ff"/>
<path d="M306.5 122.8L309.5 125.8L306.5 128.8L303.5 125.8Z" fill="#0000ff"/>
<path d="M311.0 112.9L314.6 116.5L311.0 120.1L307.4 116.5Z" fill="#0000ff"/>
<path d="M315.2 107.4L318.9 111.0L315.2 114.6L311.6 111.0Z" fill="#0000ff"/>
<path d="M45.0 211.4 L47.0 210.9 L49.0 211.8 L51.0 211.5 L53.0 211.7 L55.0 211.0 L57.0 212.5 L59.0 211.0 L61.0 211.6 L63.0 212.1 L65.0 212.9 L67.0 212.0 L69.0 213.3 L71.0 213.5 L73.0 212.0 L75.0 212.8 L77.0 211.7 L79.0 212.4 L81.0 211.8 L83.0 213.4 L85.0 212.5 L87.0 213.4 L89.0 213.1 L91.0 213.3 L93.0 212.0 L95.0 211.6 L97.0 212.3 L99.0 211.4 L101.0 212.2 L103.0 211.4 L105.0 211.4 L107.0 211.9 L109.0 211.0 L111.0 210.0 L113.0 209.9 L115.0 210.4 L117.0 210.2 L119.0 210.1 L121.0 209.4 L123.0 209.6 L125.0 208.9 L127.0 209.0 L129.0 209.0 L131.0 207.6 L133.0 207.7 L135.0 207.7 L137.0 207.7 L139.0 206.6 L141.0 206.9 L143.0 206.7 L145.0 206.9 L147.0 205.6 L149.0 205.8 L151.0 204.7 L153.0 204.9 L155.0 204.0 L157.0 205.0 L159.0 203.8 L161.0 204.2 L163.0 203.2 L165.0 203.7 L167.0 202.5 L169.0 202.0 L171.0 201.9 L173.0 202.0 L175.0 201.5 L177.0 200.6 L179.0 199.2 L181.0 199.7 L183.0 198.6 L185.0 199.0 L187.0 198.7 L189.0 197.4 L191.0 197.0 L193.0 195.4 L195.0 195.7 L197.0 194.5 L199.0 195.0 L201.0 194.2 L203.0 194.5 L205.0 192.8 L207.0 192.5 L209.0 193.1 L211.0 192.4 L213.0 192.1 L215.0 192.2 L217.0 191.2 L219.0 191.4 L221.0 190.2 L223.0 190.2 L225.0 188.9 L227.0 187.2 L229.0 186.8 L231.0 186.9 L233.0 185.1 L235.0 184.0 L237.0 183.8 L239.0 182.8 L241.0 182.4 L243.0 181.3 L245.0 180.2 L247.0 179.1 L249.0 177.7 L251.0 177.3 L253.0 176.0 L255.0 174.0 L257.0 171.7 L259.0 171.5 L261.0 170.1 L263.0 169.0 L265.0 166.8 L267.0 164.9 L269.0 164.6 L271.0 162.5 L273.0 162.3 L275.0 161.1 L277.0 158.8 L279.0 158.2 L281.0 155.2 L283.0 155.0 L285.0 152.8 L287.0 152.1 L289.0 150.8 L291.0 149.5 L293.0 147.7 L295.0 145.2 L297.0 144.8 L299.0 145.1 L301.0 143.4 L303.0 143.7 L305.0 142.3 L308.0 140.3 L310.6 130.5 L315.0 125.6" fill="none" stroke="#00ff00" stroke-width="1"/>
<path d="M45.0 208.4L48.0 211.4L45.0 214.4L42.0 211.4Z" fill="#00ff00"/>
<path d="M47.0 207.9L50.0 210.9L47.0 213.9L44.0 210.9Z" fill="#00ff00"/>
<path d="M49.0 208.8L52.0 211.8L49.0 214.8L46.0 211.8Z" fill="#00ff00"/>
<path d="M51.0 208.5L54.0 211.5L51.0 214.5L48.0 211.5Z" fill="#00ff00"/>
<path d="M53.0 208.7L56.0 211.7L53.0 214.7L50.0 211.7Z" fill="#00ff00"/>
<path d="M55.0 208.0L58.0 211.0L55.0 214.0L52.0 211.0Z" fill="#00ff00"/>
<path d="M57.0 209.5L60.0 212.5L57.0 215.5L54.0 212.5Z" fill="#00ff00"/>
<path d="M59.0 208.0L62.0 211.0L59.0 214.0L56.0 211.0Z" fill="#00ff00"/>
<path d="M61.0 208.6L64.0 211.6L61.0 214.6L58.0 211.6Z" fill="#00ff00"/>
<path d="M63.0 209.1L66.0 212.1L63.0 215.1L60.0 212.1Z" fill="#00ff00"/>
<path d="M65.0 209.9L68.0 212.9L65.0 215.9L62.0 212.9Z" fill="#00ff00"/>
<path d="M67.0 209.0L70.0 212.0L67.0 215.0L64.0 212.0Z" fill="#00ff00"/>
<path d="M69.0 210.3L72.0 213.3L69.0 216.3L66.0 213.3Z" fill="#00ff00"/>
<path d="M71.0 210.5L74.0 213.5L71.0 216.5L68.0 213.5Z" fill="#00ff00"/>
<path d="M73.0 209.0L76.0 212.0L73.0 215.0L70.0 212.0Z" fill="#00ff00"/>
<path d="M75.0 209.8L78.0 212.8L75.0 215.8L72.0 212.8Z" fill="#00ff00"/>
<path d="M77.0 208.7L80.0 211.7L77.0 214.7L74.0 211.7Z" fill="#00ff00"/>
<path d="M79.0 209.4L82.0 212.4L79.0 215.4L76.0 212.4Z" fill="#00ff00"/>
<path d="M81.0 208.8L84.0 211.8L81.0 214.8L78.0 211.8Z" fill="#00ff00"/>
<path d="M83.0 210.4L86.0 213.4L83.0 216.4L80.0 213.4Z" fill="#00ff00"/>
<path d="M85.0 209.5L88.0 212.5L85.0 215.5L82.0 212.5Z" fill="#00ff00"/>
<path d="M87.0 210.4L90.0 213.4L87.0 216.4L84.0 213.4Z" fill="#00ff00"/>
<path d="M89.0 210.1L92.0 213.1L89.0 216.1L86.0 213.1Z" fill="#00ff00"/>
<path d="M91.0 210.3L94.0 213.3L91.0 216.3L88.0 213.3Z" fill="#00ff00"/>
<path d="M93.0 209.0L96.0 212.0L93.0 215.0L90.0 212.0Z" fill="#00ff00"/>
<path d="M95.0 208.6L98.0 211.6L95.0 214.6L92.0 211.6Z" fill="#00ff00"/>
<path d="M97.0 209.3L100.0 212.3L97.0 215.3L94.0 212.3Z" fill="#00ff00"/>
<path d="M99.0 208.4L102.0 211.4L99.0 214.4L96.0 211.4Z" fill="#00ff00"/>
<path d="M101.0 209.2L104.0 212.2L101.0 215.2L98.0 212.2Z" fill="#00ff00"/>
<path d="M103.0 208.4L106.0 211.4L103.0 214.4L100.0 211.4Z" fill="#00ff00"/>
<path d="M105.0 208.4L108.0 211.4L105.0 214.4L102.0 211.4Z" fill="#00ff00"/>
<path d="M107.0 208.9L110.0 211.9L107.0 214.9L104.0 211.9Z" fill="#00ff00"/>
<path d="M109.0 208.0L112.0 211.0L109.0 214.0L106.0 211.0Z" fill="#00ff00"/>
<path d="M111.0 207.0L114.0 210.0L111.0 213.0L108.0 210.0Z" fill="#00ff00"/>
<path d="M113.0 206.9L116.0 209.9L113.0 212.9L110.0 209.9Z" fill="#00ff00"/>
<path d="M115.0 207.4L118.0 210.4L115.0 213.4L112.0 210.4Z" fill="#00ff00"/>
<path d="M117.0 207.2L120.0 210.2L117.0 213.2L114.0 210.2Z" fill="#00ff00"/>
<path d="M119.0 207.1L122.0 210.1L119.0 213.1L116.0 210.1Z" fill="#00ff00"/>
<path d="M121.0 206.4L124.0 209.4L121.0 212.4L118.0 209.4Z" fill="#00ff00"/>
<path d="M123.0 206.6L126.0 209.6L123.0 212.6L120.0 209.6Z" fill="#00ff00"/>
<path d="M125.0 205.9L128.0 208.9L125.0 211.9L122.0 208.9Z" fill="#00ff00"/>
<path d="M127.0 206.0L130.0 209.0L127.0 212.0L124.0 209.0Z" fill="#00ff00"/>
<path d="M129.0 206.0L132.0 209.0L129.0 212.0L126.0 209.0Z" fill="#00ff00"/>
<path d="M131.0 204.6L134.0 207.6L131.0 210.6L128.0 207.6Z" fill="#00ff00"/>
<path d="M133.0 204.7L136.0 207.7L133.0 210.7L130.0 207.7Z" fill="#00ff00"/>
<path d="M135.0 204.7L138.0 207.7L135.0 210.7L132.0 207.7Z" fill="#00ff00"/>
<path d="M137.0 204.7L140.0 207.7L137.0 210.7L134.0 207.7Z" fill="#00ff00"/>
<path d="M139.0 203.6L142.0 206.6L139.0 209.6L136.0 206.6Z" fill="#00ff00"/>
<path d="M141.0 203.9L144.0 206.9L141.0 209.9L138.0 206.9Z" fill="#00ff00"/>
<path d="M143.0 203.7L146.0 206.7L143.0 209.7L140.0 206.7Z" fill="#00ff00"/>
<path d="M145.0 203.9L148.0 206.9L145.0 209.9L142.0 206.9Z" fill="#00ff00"/>
<path d="M147.0 202.6L150.0 205.6L147.0 208.6L144.0 205.6Z" fill="#00ff00"/>
<path d="M149.0 202.8L152.0 205.8L149.0 208.8L146.0 205.8Z" fill="#00ff00"/>
<path d="M151.0 201.7L154.0 204.7L151.0 207.7L148.0 204.7Z" fill="#00ff00"/>
<path d="M153.0 201.9L156.0 204.9L153.0 207.9L150.0 204.9Z" fill="#00ff00"/>
<path d="M155.0 201.0L158.0 204.0L155.0 207.0L152.0 204.0Z" fill="#00ff00"/>
<path d="M157.0 202.0L160.0 205.0L157.0 208.0L154.0 205.0Z" fill="#00ff00"/>
<path d="M159.0 200.8L162.0 203.8L159.0 206.8L156.0 203.8Z" fill="#00ff00"/>
<path d="M161.0 201.2L164.0 204.2L161.0 207.2L158.0 204.2Z" fill="#00ff00"/>
<path d="M163.0 200.2L166.0 203.2L163.0 206.2L160.0 203.2Z" fill="#00ff00"/>
<path d="M165.0 200.7L168.0 203.7L165.0 206.7L162.0 203.7Z" fill="#00ff00"/>
<path d="M167.0 199.5L170.0 202.5L167.0 205.5L164.0 202.5Z" fill="#00ff00"/>
<path d="M169.0 199.0L172.0 202.0L169.0 205.0L166.0 202.0Z" fill="#00ff00"/>
<path d="M171.0 198.9L174.0 201.9L171.0 204.9L168.0 201.9Z" fill="#00ff00"/>
<path d="M173.0 199.0L176.0 202.0L173.0 205.0L170.0 202.0Z" fill="#00ff00"/>
<path d="M175.0 198.5L178.0 201.5L175.0 204.5L172.0 201.5Z" fill="#00ff00"/>
<path d="M177.0 197.6L180.0 200.6L177.0 203.6L174.0 200.6Z" fill="#00ff00"/>
<path d="M179.0 196.2L182.0 199.2L179.0 202.2L176.0 199.2Z" fill="#00ff00"/>
<path d="M181.0 196.7L184.0 199.7L181.0 202.7L178.0 199.7Z" fill="#00ff00"/>
<path d="M183.0 195.6L186.0 198.6L183.0 201.6L180.0 198.6Z" fill="#00ff00"/>
<path d="M185.0 196.0L188.0 199.0L185.0 202.0L182.0 199.0Z" fill="#00ff00"/>
<path d="M187.0 195.7L190.0 198.7L187.0 201.7L184.0 198.7Z" fill="#00ff00"/>
<path d="M189.0 194.4L192.0 197.4L189.0 200.4L186.0 197.4Z" fill="#00ff00"/>
<path d="M191.0 194.0L194.0 197.0L191.0 200.0L188.0 197.0Z" fill="#00ff00"/>
<path d="M193.0 192.4L196.0 195.4L193.0 198.4L190.0 195.4Z" fill="#00ff00"/>
<path d="M195.0 192.7L198.0 195.7L195.0 198.7L192.0 195.7Z" fill="#00ff00"/>
<path d="M197.0 191.5L200.0 194.5L197.0 197.5L194.0 194.5Z" fill="#00ff00"/>
<path d="M199.0 192.0L202.0 195.0L199.0 198.0L196.0 195.0Z" fill="#00ff00"/>
<path d="M201.0 191.2L204.0 194.2L201.0 197.2L198.0 194.2Z" fill="#00ff00"/>
<path d="M203.0 191.5L206.0 194.5L203.0 197.5L200.0 194.5Z" fill="#00ff00"/>
<path d="M205.0 189.8L208.0 192.8L205.0 195.8L202.0 192.8Z" fill="#00ff00"/>
<path d="M207.0 189.5L210.0 192.5L207.0 195.5L204.0 192.5Z" fill="#00ff00"/>
<path d="M209.0 190.1L212.0 193.1L209.0 196.1L206.0 193.1Z" fill="#00ff00"/>
<path d="M211.0 189.4L214.0 192.4L211.0 195.4L208.0 192.4Z" fill="#00ff00"/>
<path d="M213.0 189.1L216.0 192.1L213.0 195.1L210.0 192.1Z" fill="#00ff00"/>
<path d="M215.0 189.2L218.0 192.2L215.0 195.2L212.0 192.2Z" fill="#00ff00"/>
<path d="M217.0 188.2L220.0 191.2L217.0 194.2L214.0 191.2Z" fill="#00ff00"/>
<path d="M219.0 188.4L222.0 191.4L219.0 194.4L216.0 191.4Z" fill="#00ff00"/>
<path d="M221.0 187.2L224.0 190.2L221.0 193.2L218.0 190.2Z" fill="#00ff00"/>
<path d="M223.0 187.2L226.0 190.2L223.0 193.2L220.0 190.2Z" fill="#00ff00"/>
<path d="M225.0 185.9L228.0 188.9L225.0 191.9L222.0 188.9Z" fill="#00ff00"/>
<path d="M227.0 184.2L230.0 187.2L227.0 190.2L224.0 187.2Z" fill="#00ff00"/>
<path d="M229.0 183.8L232.0 186.8L229.0 189.8L226.0 186.8Z" fill="#00ff00"/>
<path d="M231.0 183.9L234.0 186.9L231.0 189.9L228.0 186.9Z" fill="#00ff00"/>
<path d="M233.0 182.1L236.0 185.1L233.0 188.1L230.0 185.1Z" fill="#00ff00"/>
<path d="M235.0 181.0L238.0 184.0L235.0 187.0L232.0 184.0Z" fill="#00ff00"/>
<path d="M237.0 180.8L240.0 183.8L237.0 186.8L234.0 183.8Z" fill="#00ff00"/>
<path d="M239.0 179.8L242.0 182.8L239.0 185.8L236.0 182.8Z" fill="#00ff00"/>
<path d="M241.0 179.4L244.0 182.4L241.0 185.4L238.0 182.4Z" fill="#00ff00"/>
<path d="M243.0 178.3L246.0 181.3L243.0 184.3L240.0 181.3Z" fill="#00ff00"/>
<path d="M245.0 177.2L248.0 180.2L245.0 183.2L242.0 180.2Z" fill="#00ff00"/>
<path d="M247.0 176.1L250.0 179.1L247.0 182.1L244.0 179.1Z" fill="#00ff00"/>
<path d="M249.0 174.7L252.0 177.7L249.0 180.7L246.0 177.7Z" fill="#00ff00"/>
<path d="M251.0 174.3L254.0 177.3L251.0 180.3L248.0 177.3Z" fill="#00ff00"/>
<path d="M253.0 173.0L256.0 176.0L253.0 179.0L250.0 176.0Z" fill="#00ff00"/>
<path d="M255.0 171.0L258.0 174.0L255.0 177.0L252.0 174.0Z" fill="#00ff00"/>
<path d="M257.0 168.7L260.0 171.7L257.0 174.7L254.0 171.7Z" fill="#00ff00"/>
<path d="M259.0 168.5L262.0 171.5L259.0 174.5L256.0 171.5Z" fill="#00ff00"/>
<path d="M261.0 167.1L264.0 170.1L261.0 173.1L258.0 170.1Z" fill="#00ff00"/>
<path d="M263.0 166.0L266.0 169.0L263.0 172.0L260.0 169.0Z" fill="#00ff00"/>
<path d="M265.0 163.8L268.0 166.8L265.0 169.8L262.0 166.8Z" fill="#00ff00"/>
<path d="M267.0 161.9L270.0 164.9L267.0 167.9L264.0 164.9Z" fill="#00ff00"/>
<path d="M269.0 161.6L272.0 164.6L269.0 167.6L266.0 164.6Z" fill="#00ff00"/>
<path d="M271.0 159.5L274.0 162.5L271.0 165.5L268.0 162.5Z" fill="#00ff00"/>
<path d="M273.0 159.3L276.0 162.3L273.0 165.3L270.0 162.3Z" fill="#00ff00"/>
<path d="M275.0 158.1L278.0 161.1L275.0 164.1L272.0 161.1Z" fill="#00ff00"/>
<path d="M277.0 155.8L280.0 158.8L277.0 161.8L274.0 158.8Z" fill="#00ff00"/>
<path d="M279.0 155.2L282.0 158.2L279.0 161.2L276.0 158.2Z" fill="#00ff00"/>
<path d="M281.0 152.2L284.0 155.2L281.0 158.2L278.0 155.2Z" fill="#00ff00"/>
<path d="M283.0 152.0L286.0 155.0L283.0 158.0L280.0 155.0Z" fill="#00ff00"/>
<path d="M285.0 149.8L288.0 152.8L285.0 155.8L282.0 152.8Z" fill="#00ff00"/>
<path d="M287.0 149.1L290.0 152.1L287.0 155.1L284.0 152.1Z" fill="#00ff00"/>
<path d="M289.0 147.8L292.0 150.8L289.0 153.8L286.0 150.8Z" fill="#00ff00"/>
<path d="M291.0 146.5L294.0 149.5L291.0 152.5L288.0 149.5Z" fill="#00ff00"/>
<path d="M293.0 144.7L296.0 147.7L293.0 150.7L290.0 147.7Z" fill="#00ff00"/>
<path d="M295.0 142.2L298.0 145.2L295.0 148.2L292.0 145.2Z" fill="#00ff00"/>
<path d="M297.0 141.8L300.0 144.8L297.0 147.8L294.0 144.8Z" fill="#00ff00"/>
<path d="M299.0 142.1L302.0 145.1L299.0 148.1L296.0 145.1Z" fill="#00ff00"/>
<path d="M301.0 140.4L304.0 143.4L301.0 146.4L298.0 143.4Z" fill="#00ff00"/>
<path d="M303.0 140.7L306.0 143.7L303.0 146.7L300.0 143.7Z" fill="#00ff00"/>
<path d="M305.0 139.3L308.0 142.3L305.0 145.3L302.0 142.3Z" fill="#00ff00"/>
<path d="M308.0 137.3L311.0 140.3L308.0 143.3L305.0 140.3Z" fill="#00ff00"/>
<path d="M310.6 126.9L314.2 130.5L310.6 134.1L307.0 130.5Z" fill="#00ff00"/>
<path d="M315.0 122.0L318.6 125.6L315.0 129.2L311.4 125.6Z" fill="#00ff00"/>
</g>
<g>
<path d="M401.2 219.1 L403.2 220.9 L405.2 220.3 L407.2 222.2 L409.2 222.0 L411.2 222.9 L413.2 223.8 L415.2 223.9 L417.2 224.2 L419.2 224.2 L421.2 224.2 L423.2 225.5 L425.2 225.2 L427.2 224.8 L429.2 226.3 L431.2 225.4 L433.2 225.8 L435.2 225.7 L437.2 226.1 L439.2 225.8 L441.2 225.7 L443.2 224.9 L445.2 224.7 L447.2 224.4 L449.2 224.4 L451.2 223.8 L453.2 223.7 L455.2 224.9 L457.2 224.7 L459.2 223.1 L461.2 222.5 L463.2 222.4 L465.2 222.9 L467.2 222.7 L469.2 220.9 L471.2 221.5 L473.2 220.1 L475.2 220.6 L477.2 220.4 L479.2 220.6 L481.2 218.9 L483.2 219.5 L485.2 219.2 L487.2 219.0 L489.2 217.0 L491.2 217.6 L493.2 218.2 L495.2 216.8 L497.2 217.3 L499.2 216.5 L501.2 216.6 L503.2 215.8 L505.2 214.6 L507.2 214.4 L509.2 214.2 L511.2 213.9 L513.2 214.4 L515.2 213.1 L517.2 212.8 L519.2 211.6 L521.2 211.1 L523.2 210.7 L525.2 210.2 L527.2 209.7 L529.2 209.1 L531.2 207.3 L533.2 207.3 L535.2 206.3 L537.2 206.7 L539.2 206.7 L541.2 205.2 L543.2 205.3 L545.2 205.6 L547.2 205.3 L549.2 206.2 L551.2 205.4 L553.2 205.8 L555.2 205.5 L557.2 205.7 L559.2 206.5 L561.2 206.5 L563.2 205.1 L565.2 206.3 L567.2 205.3 L569.2 204.8 L571.2 205.2 L573.2 205.3 L575.2 206.0 L577.2 204.9 L579.2 204.1 L581.2 205.5 L583.2 204.1 L585.2 204.3 L587.2 204.6 L589.2 203.6 L591.2 203.1 L593.5 203.3 L597.5 200.6 L601.9 198.5 L605.6 195.0 L609.4 191.6 L613.1 188.1 L617.2 184.4 L621.6 178.8 L625.6 172.8 L629.4 166.9 L633.4 159.8 L637.2 150.6 L641.2 143.1 L645.6 138.5 L649.4 130.6 L652.5 117.0 L656.2 102.0 L660.5 88.2 L664.0 41.2" fill="none" stroke="#000" stroke-width="1"/>
<rect x="398.9" y="216.7" width="4.8" height="4.8" fill="#000"/>
<rect x="400.9" y="218.5" width="4.8" height="4.8" fill="#000"/>
<rect x="402.9" y="217.9" width="4.8" height="4.8" fill="#000"/>
<rect x="404.9" y="219.8" width="4.8" height="4.8" fill="#000"/>
<rect x="406.9" y="219.6" width="4.8" height="4.8" fill="#000"/>
<rect x="408.9" y="220.5" width="4.8" height="4.8" fill="#000"/>
<rect x="410.9" y="221.4" width="4.8" height="4.8" fill="#000"/>
<rect x="412.9" y="221.5" width="4.8" height="4.8" fill="#000"/>
<rect x="414.9" y="221.8" width="4.8" height="4.8" fill="#000"/>
<rect x="416.9" y="221.8" width="4.8" height="4.8" fill="#000"/>
<rect x="418.9" y="221.8" width="4.8" height="4.8" fill="#000"/>
<rect x="420.9" y="223.1" width="4.8" height="4.8" fill="#000"/>
<rect x="422.9" y="222.8" width="4.8" height="4.8" fill="#000"/>
<rect x="424.9" y="222.4" width="4.8" height="4.8" fill="#000"/>
<rect x="426.9" y="223.9" width="4.8" height="4.8" fill="#000"/>
<rect x="428.9" y="223.0" width="4.8" height="4.8" fill="#000"/>
<rect x="430.9" y="223.4" width="4.8" height="4.8" fill="#000"/>
<rect x="432.9" y="223.3" width="4.8" height="4.8" fill="#000"/>
<rect x="434.9" y="223.7" width="4.8" height="4.8" fill="#000"/>
<rect x="436.9" y="223.4" width="4.8" height="4.8" fill="#000"/>
<rect x="438.9" y="223.3" width="4.8" height="4.8" fill="#000"/>
<rect x="440.9" y="222.5" width="4.8" height="4.8" fill="#000"/>
<rect x="442.9" y="222.3" width="4.8" height="4.8" fill="#000"/>
<rect x="444.9" y="222.0" width="4.8" height="4.8" fill="#000"/>
<rect x="446.9" y="222.0" width="4.8" height="4.8" fill="#000"/>
<rect x="448.9" y="221.4" width="4.8" height="4.8" fill="#000"/>
<rect x="450.9" y="221.3" width="4.8" height="4.8" fill="#000"/>
<rect x="452.9" y="222.5" width="4.8" height="4.8" fill="#000"/>
<rect x="454.9" y="222.3" width="4.8" height="4.8" fill="#000"/>
<rect x="456.9" y="220.7" width="4.8" height="4.8" fill="#000"/>
<rect x="458.9" y="220.1" width="4.8" height="4.8" fill="#000"/>
<rect x="460.9" y="220.0" width="4.8" height="4.8" fill="#000"/>
<rect x="462.9" y="220.5" width="4.8" height="4.8" fill="#000"/>
<rect x="464.9" y="220.3" width="4.8" height="4.8" fill="#000"/>
<rect x="466.9" y="218.5" width="4.8" height="4.8" fill="#000"/>
<rect x="468.9" y="219.1" width="4.8" height="4.8" fill="#000"/>
<rect x="470.9" y="217.7" width="4.8" height="4.8" fill="#000"/>
<rect x="472.9" y="218.2" width="4.8" height="4.8" fill="#000"/>
<rect x="474.9" y="218.0" width="4.8" height="4.8" fill="#000"/>
<rect x="476.9" y="218.2" width="4.8" height="4.8" fill="#000"/>
<rect x="478.9" y="216.5" width="4.8" height="4.8" fill="#000"/>
<rect x="480.9" y="217.1" width="4.8" height="4.8" fill="#000"/>
<rect x="482.9" y="216.8" width="4.8" height="4.8" fill="#000"/>
<rect x="484.9" y="216.6" width="4.8" height="4.8" fill="#000"/>
<rect x="486.9" y="214.6" width="4.8" height="4.8" fill="#000"/>
<rect x="488.9" y="215.2" width="4.8" height="4.8" fill="#000"/>
<rect x="490.9" y="215.8" width="4.8" height="4.8" fill="#000"/>
<rect x="492.9" y="214.4" width="4.8" height="4.8" fill="#000"/>
<rect x="494.9" y="214.9" width="4.8" height="4.8" fill="#000"/>
<rect x="496.9" y="214.1" width="4.8" height="4.8" fill="#000"/>
<rect x="498.9" y="214.2" width="4.8" height="4.8" fill="#000"/>
<rect x="500.9" y="213.4" width="4.8" height="4.8" fill="#000"/>
<rect x="502.9" y="212.2" width="4.8" height="4.8" fill="#000"/>
<rect x="504.9" y="212.0" width="4.8" height="4.8" fill="#000"/>
<rect x="506.9" y="211.8" width="4.8" height="4.8" fill="#000"/>
<rect x="508.9" y="211.5" width="4.8" height="4.8" fill="#000"/>
<rect x="510.9" y="212.0" width="4.8" height="4.8" fill="#000"/>
<rect x="512.9" y="210.7" width="4.8" height="4.8" fill="#000"/>
<rect x="514.9" y="210.4" width="4.8" height="4.8" fill="#000"/>
<rect x="516.9" y="209.2" width="4.8" height="4.8" fill="#000"/>
<rect x="518.9" y="208.7" width="4.8" height="4.8" fill="#000"/>
<rect x="520.9" y="208.3" width="4.8" height="4.8" fill="#000"/>
<rect x="522.9" y="207.8" width="4.8" height="4.8" fill="#000"/>
<rect x="524.9" y="207.3" width="4.8" height="4.8" fill="#000"/>
<rect x="526.9" y="206.7" width="4.8" height="4.8" fill="#000"/>
<rect x="528.9" y="204.9" width="4.8" height="4.8" fill="#000"/>
<rect x="530.9" y="204.9" width="4.8" height="4.8" fill="#000"/>
<rect x="532.9" y="203.9" width="4.8" height="4.8" fill="#000"/>
<rect x="534.9" y="204.3" width="4.8" height="4.8" fill="#000"/>
<rect x="536.9" y="204.3" width="4.8" height="4.8" fill="#000"/>
<rect x="538.9" y="202.8" width="4.8" height="4.8" fill="#000"/>
<rect x="540.9" y="202.9" width="4.8" height="4.8" fill="#000"/>
<rect x="542.9" y="203.2" width="4.8" height="4.8" fill="#000"/>
<rect x="544.9" y="202.9" width="4.8" height="4.8" fill="#000"/>
<rect x="546.9" y="203.8" width="4.8" height="4.8" fill="#000"/>
<rect x="548.9" y="203.0" width="4.8" height="4.8" fill="#000"/>
<rect x="550.9" y="203.4" width="4.8" height="4.8" fill="#000"/>
<rect x="552.9" y="203.1" width="4.8" height="4.8" fill="#000"/>
<rect x="554.9" y="203.3" width="4.8" height="4.8" fill="#000"/>
<rect x="556.9" y="204.1" width="4.8" height="4.8" fill="#000"/>
<rect x="558.9" y="204.1" width="4.8" height="4.8" fill="#000"/>
<rect x="560.9" y="202.7" width="4.8" height="4.8" fill="#000"/>
<rect x="562.9" y="203.9" width="4.8" height="4.8" fill="#000"/>
<rect x="564.9" y="202.9" width="4.8" height="4.8" fill="#000"/>
<rect x="566.9" y="202.4" width="4.8" height="4.8" fill="#000"/>
<rect x="568.9" y="202.8" width="4.8" height="4.8" fill="#000"/>
<rect x="570.9" y="202.9" width="4.8" height="4.8" fill="#000"/>
<rect x="572.9" y="203.6" width="4.8" height="4.8" fill="#000"/>
<rect x="574.9" y="202.5" width="4.8" height="4.8" fill="#000"/>
<rect x="576.9" y="201.7" width="4.8" height="4.8" fill="#000"/>
<rect x="578.9" y="203.1" width="4.8" height="4.8" fill="#000"/>
<rect x="580.9" y="201.7" width="4.8" height="4.8" fill="#000"/>
<rect x="582.9" y="201.9" width="4.8" height="4.8" fill="#000"/>
<rect x="584.9" y="202.2" width="4.8" height="4.8" fill="#000"/>
<rect x="586.9" y="201.2" width="4.8" height="4.8" fill="#000"/>
<rect x="588.9" y="200.7" width="4.8" height="4.8" fill="#000"/>
<rect x="591.1" y="200.9" width="4.8" height="4.8" fill="#000"/>
<rect x="595.1" y="198.2" width="4.8" height="4.8" fill="#000"/>
<rect x="599.5" y="196.1" width="4.8" height="4.8" fill="#000"/>
<rect x="603.2" y="192.6" width="4.8" height="4.8" fill="#000"/>
<rect x="607.0" y="189.2" width="4.8" height="4.8" fill="#000"/>
<rect x="610.7" y="185.7" width="4.8" height="4.8" fill="#000"/>
<rect x="614.9" y="182.0" width="4.8" height="4.8" fill="#000"/>
<rect x="619.2" y="176.3" width="4.8" height="4.8" fill="#000"/>
<rect x="623.2" y="170.3" width="4.8" height="4.8" fill="#000"/>
<rect x="627.0" y="164.5" width="4.8" height="4.8" fill="#000"/>
<rect x="631.0" y="157.3" width="4.8" height="4.8" fill="#000"/>
<rect x="634.9" y="148.2" width="4.8" height="4.8" fill="#000"/>
<rect x="638.9" y="140.7" width="4.8" height="4.8" fill="#000"/>
<rect x="643.2" y="136.1" width="4.8" height="4.8" fill="#000"/>
<rect x="647.0" y="128.2" width="4.8" height="4.8" fill="#000"/>
<rect x="650.1" y="114.6" width="4.8" height="4.8" fill="#000"/>
<rect x="653.9" y="99.6" width="4.8" height="4.8" fill="#000"/>
<rect x="658.1" y="85.8" width="4.8" height="4.8" fill="#000"/>
<rect x="661.6" y="38.9" width="4.8" height="4.8" fill="#000"/>
<path d="M401.0 224.8 L403.0 224.0 L405.0 225.1 L407.0 224.0 L409.0 224.3 L411.0 225.4 L413.0 225.5 L415.0 225.6 L417.0 225.7 L419.0 226.4 L421.0 226.3 L423.0 227.0 L425.0 226.6 L427.0 226.7 L429.0 226.7 L431.0 227.3 L433.0 227.0 L435.0 226.2 L437.0 227.0 L439.0 226.9 L441.0 225.4 L443.0 226.6 L445.0 226.7 L447.0 226.5 L449.0 226.3 L451.0 225.8 L453.0 224.9 L455.0 226.2 L457.0 225.0 L459.0 224.4 L461.0 225.1 L463.0 225.4 L465.0 223.9 L467.0 224.5 L469.0 224.1 L471.0 224.1 L473.0 224.3 L475.0 223.0 L477.0 222.6 L479.0 222.6 L481.0 222.9 L483.0 222.6 L485.0 221.8 L487.0 222.6 L489.0 221.4 L491.0 221.0 L493.0 221.3 L495.0 219.9 L497.0 220.2 L499.0 220.5 L501.0 220.1 L503.0 218.8 L505.0 218.2 L507.0 218.2 L509.0 217.6 L511.0 217.9 L513.0 216.4 L515.0 216.2 L517.0 216.7 L519.0 215.8 L521.0 215.8 L523.0 215.5 L525.0 214.8 L527.0 213.2 L529.0 213.4 L531.0 212.6 L533.0 211.9 L535.0 211.9 L537.0 211.5 L539.0 210.7 L541.0 209.1 L543.0 209.6 L545.0 207.8 L547.0 207.8 L549.0 208.9 L551.0 207.7 L553.0 207.1 L555.0 207.8 L557.0 206.7 L559.0 207.3 L561.0 206.4 L563.0 205.8 L565.0 207.2 L567.0 205.4 L569.0 206.0 L571.0 205.5 L573.0 206.1 L575.0 206.4 L577.0 206.0 L579.0 206.0 L581.0 205.1 L583.0 206.2 L585.0 205.3 L587.0 205.8 L589.0 204.8 L591.0 204.9 L593.0 205.6 L595.0 204.7 L597.0 204.3 L599.0 203.6 L601.0 204.1 L603.0 202.8 L605.0 202.1 L608.8 201.2 L612.5 200.0 L616.2 198.5 L620.6 196.2 L624.1 193.5 L628.1 190.6 L631.9 187.5 L635.6 183.8 L639.6 180.0 L643.5 175.6 L647.5 171.2 L650.5 167.0 L653.1 163.1 L657.1 154.4 L660.9 149.4 L664.2 127.0" fill="none" stroke="#ff0000" stroke-width="1"/>
<path d="M401.0 221.8L404.0 227.5L398.0 227.5Z" fill="#ff0000"/>
<path d="M403.0 221.0L406.0 226.7L400.0 226.7Z" fill="#ff0000"/>
<path d="M405.0 222.1L408.0 227.8L402.0 227.8Z" fill="#ff0000"/>
<path d="M407.0 221.0L410.0 226.7L404.0 226.7Z" fill="#ff0000"/>
<path d="M409.0 221.3L412.0 227.0L406.0 227.0Z" fill="#ff0000"/>
<path d="M411.0 222.4L414.0 228.1L408.0 228.1Z" fill="#ff0000"/>
<path d="M413.0 222.5L416.0 228.2L410.0 228.2Z" fill="#ff0000"/>
<path d="M415.0 222.6L418.0 228.3L412.0 228.3Z" fill="#ff0000"/>
<path d="M417.0 222.7L420.0 228.4L414.0 228.4Z" fill="#ff0000"/>
<path d="M419.0 223.4L422.0 229.1L416.0 229.1Z" fill="#ff0000"/>
<path d="M421.0 223.3L424.0 229.0L418.0 229.0Z" fill="#ff0000"/>
<path d="M423.0 224.0L426.0 229.7L420.0 229.7Z" fill="#ff0000"/>
<path d="M425.0 223.6L428.0 229.3L422.0 229.3Z" fill="#ff0000"/>
<path d="M427.0 223.7L430.0 229.4L424.0 229.4Z" fill="#ff0000"/>
<path d="M429.0 223.7L432.0 229.4L426.0 229.4Z" fill="#ff0000"/>
<path d="M431.0 224.3L434.0 230.0L428.0 230.0Z" fill="#ff0000"/>
<path d="M433.0 224.0L436.0 229.7L430.0 229.7Z" fill="#ff0000"/>
<path d="M435.0 223.2L438.0 228.9L432.0 228.9Z" fill="#ff0000"/>
<path d="M437.0 224.0L440.0 229.7L434.0 229.7Z" fill="#ff0000"/>
<path d="M439.0 223.9L442.0 229.6L436.0 229.6Z" fill="#ff0000"/>
<path d="M441.0 222.4L444.0 228.1L438.0 228.1Z" fill="#ff0000"/>
<path d="M443.0 223.6L446.0 229.3L440.0 229.3Z" fill="#ff0000"/>
<path d="M445.0 223.7L448.0 229.4L442.0 229.4Z" fill="#ff0000"/>
<path d="M447.0 223.5L450.0 229.2L444.0 229.2Z" fill="#ff0000"/>
<path d="M449.0 223.3L452.0 229.0L446.0 229.0Z" fill="#ff0000"/>
<path d="M451.0 222.8L454.0 228.5L448.0 228.5Z" fill="#ff0000"/>
<path d="M453.0 221.9L456.0 227.6L450.0 227.6Z" fill="#ff0000"/>
<path d="M455.0 223.2L458.0 228.9L452.0 228.9Z" fill="#ff0000"/>
<path d="M457.0 222.0L460.0 227.7L454.0 227.7Z" fill="#ff0000"/>
<path d="M459.0 221.4L462.0 227.1L456.0 227.1Z" fill="#ff0000"/>
<path d="M461.0 222.1L464.0 227.8L458.0 227.8Z" fill="#ff0000"/>
<path d="M463.0 222.4L466.0 228.1L460.0 228.1Z" fill="#ff0000"/>
<path d="M465.0 220.9L468.0 226.6L462.0 226.6Z" fill="#ff0000"/>
<path d="M467.0 221.5L470.0 227.2L464.0 227.2Z" fill="#ff0000"/>
<path d="M469.0 221.1L472.0 226.8L466.0 226.8Z" fill="#ff0000"/>
<path d="M471.0 221.1L474.0 226.8L468.0 226.8Z" fill="#ff0000"/>
<path d="M473.0 221.3L476.0 227.0L470.0 227.0Z" fill="#ff0000"/>
<path d="M475.0 220.0L478.0 225.7L472.0 225.7Z" fill="#ff0000"/>
<path d="M477.0 219.6L480.0 225.3L474.0 225.3Z" fill="#ff0000"/>
<path d="M479.0 219.6L482.0 225.3L476.0 225.3Z" fill="#ff0000"/>
<path d="M481.0 219.9L484.0 225.6L478.0 225.6Z" fill="#ff0000"/>
<path d="M483.0 219.6L486.0 225.3L480.0 225.3Z" fill="#ff0000"/>
<path d="M485.0 218.8L488.0 224.5L482.0 224.5Z" fill="#ff0000"/>
<path d="M487.0 219.6L490.0 225.3L484.0 225.3Z" fill="#ff0000"/>
<path d="M489.0 218.4L492.0 224.1L486.0 224.1Z" fill="#ff0000"/>
<path d="M491.0 218.0L494.0 223.7L488.0 223.7Z" fill="#ff0000"/>
<path d="M493.0 218.3L496.0 224.0L490.0 224.0Z" fill="#ff0000"/>
<path d="M495.0 216.9L498.0 222.6L492.0 222.6Z" fill="#ff0000"/>
<path d="M497.0 217.2L500.0 222.9L494.0 222.9Z" fill="#ff0000"/>
<path d="M499.0 217.5L502.0 223.2L496.0 223.2Z" fill="#ff0000"/>
<path d="M501.0 217.1L504.0 222.8L498.0 222.8Z" fill="#ff0000"/>
<path d="M503.0 215.8L506.0 221.5L500.0 221.5Z" fill="#ff0000"/>
<path d="M505.0 215.2L508.0 220.9L502.0 220.9Z" fill="#ff0000"/>
<path d="M507.0 215.2L510.0 220.9L504.0 220.9Z" fill="#ff0000"/>
<path d="M509.0 214.6L512.0 220.3L506.0 220.3Z" fill="#ff0000"/>
<path d="M511.0 214.9L514.0 220.6L508.0 220.6Z" fill="#ff0000"/>
<path d="M513.0 213.4L516.0 219.1L510.0 219.1Z" fill="#ff0000"/>
<path d="M515.0 213.2L518.0 218.9L512.0 218.9Z" fill="#ff0000"/>
<path d="M517.0 213.7L520.0 219.4L514.0 219.4Z" fill="#ff0000"/>
<path d="M519.0 212.8L522.0 218.5L516.0 218.5Z" fill="#ff0000"/>
<path d="M521.0 212.8L524.0 218.5L518.0 218.5Z" fill="#ff0000"/>
<path d="M523.0 212.5L526.0 218.2L520.0 218.2Z" fill="#ff0000"/>
<path d="M525.0 211.8L528.0 217.5L522.0 217.5Z" fill="#ff0000"/>
<path d="M527.0 210.2L530.0 215.9L524.0 215.9Z" fill="#ff0000"/>
<path d="M529.0 210.4L532.0 216.1L526.0 216.1Z" fill="#ff0000"/>
<path d="M531.0 209.6L534.0 215.3L528.0 215.3Z" fill="#ff0000"/>
<path d="M533.0 208.9L536.0 214.6L530.0 214.6Z" fill="#ff0000"/>
<path d="M535.0 208.9L538.0 214.6L532.0 214.6Z" fill="#ff0000"/>
<path d="M537.0 208.5L540.0 214.2L534.0 214.2Z" fill="#ff0000"/>
<path d="M539.0 207.7L542.0 213.4L536.0 213.4Z" fill="#ff0000"/>
<path d="M541.0 206.1L544.0 211.8L538.0 211.8Z" fill="#ff0000"/>
<path d="M543.0 206.6L546.0 212.3L540.0 212.3Z" fill="#ff0000"/>
<path d="M545.0 204.8L548.0 210.5L542.0 210.5Z" fill="#ff0000"/>
<path d="M547.0 204.8L550.0 210.5L544.0 210.5Z" fill="#ff0000"/>
<path d="M549.0 205.9L552.0 211.6L546.0 211.6Z" fill="#ff0000"/>
<path d="M551.0 204.7L554.0 210.4L548.0 210.4Z" fill="#ff0000"/>
<path d="M553.0 204.1L556.0 209.8L550.0 209.8Z" fill="#ff0000"/>
<path d="M555.0 204.8L558.0 210.5L552.0 210.5Z" fill="#ff0000"/>
<path d="M557.0 203.7L560.0 209.4L554.0 209.4Z" fill="#ff0000"/>
<path d="M559.0 204.3L562.0 210.0L556.0 210.0Z" fill="#ff0000"/>
<path d="M561.0 203.4L564.0 209.1L558.0 209.1Z" fill="#ff0000"/>
<path d="M563.0 202.8L566.0 208.5L560.0 208.5Z" fill="#ff0000"/>
<path d="M565.0 204.2L568.0 209.9L562.0 209.9Z" fill="#ff0000"/>
<path d="M567.0 202.4L570.0 208.1L564.0 208.1Z" fill="#ff0000"/>
<path d="M569.0 203.0L572.0 208.7L566.0 208.7Z" fill="#ff0000"/>
<path d="M571.0 202.5L574.0 208.2L568.0 208.2Z" fill="#ff0000"/>
<path d="M573.0 203.1L576.0 208.8L570.0 208.8Z" fill="#ff0000"/>
<path d="M575.0 203.4L578.0 209.1L572.0 209.1Z" fill="#ff0000"/>
<path d="M577.0 203.0L580.0 208.7L574.0 208.7Z" fill="#ff0000"/>
<path d="M579.0 203.0L582.0 208.7L576.0 208.7Z" fill="#ff0000"/>
<path d="M581.0 202.1L584.0 207.8L578.0 207.8Z" fill="#ff0000"/>
<path d="M583.0 203.2L586.0 208.9L580.0 208.9Z" fill="#ff0000"/>
<path d="M585.0 202.3L588.0 208.0L582.0 208.0Z" fill="#ff0000"/>
<path d="M587.0 202.8L590.0 208.5L584.0 208.5Z" fill="#ff0000"/>
<path d="M589.0 201.8L592.0 207.5L586.0 207.5Z" fill="#ff0000"/>
<path d="M591.0 201.9L594.0 207.6L588.0 207.6Z" fill="#ff0000"/>
<path d="M593.0 202.6L596.0 208.3L590.0 208.3Z" fill="#ff0000"/>
<path d="M595.0 201.7L598.0 207.4L592.0 207.4Z" fill="#ff0000"/>
<path d="M597.0 201.3L600.0 207.0L594.0 207.0Z" fill="#ff0000"/>
<path d="M599.0 200.6L602.0 206.3L596.0 206.3Z" fill="#ff0000"/>
<path d="M601.0 201.1L604.0 206.8L598.0 206.8Z" fill="#ff0000"/>
<path d="M603.0 199.8L606.0 205.5L600.0 205.5Z" fill="#ff0000"/>
<path d="M605.0 199.1L608.0 204.8L602.0 204.8Z" fill="#ff0000"/>
<path d="M608.8 198.2L611.8 203.9L605.8 203.9Z" fill="#ff0000"/>
<path d="M612.5 197.0L615.5 202.7L609.5 202.7Z" fill="#ff0000"/>
<path d="M616.2 195.5L619.2 201.2L613.2 201.2Z" fill="#ff0000"/>
<path d="M620.6 193.2L623.6 198.9L617.6 198.9Z" fill="#ff0000"/>
<path d="M624.1 190.5L627.1 196.2L621.1 196.2Z" fill="#ff0000"/>
<path d="M628.1 187.6L631.1 193.3L625.1 193.3Z" fill="#ff0000"/>
<path d="M631.9 184.5L634.9 190.2L628.9 190.2Z" fill="#ff0000"/>
<path d="M635.6 180.8L638.6 186.4L632.6 186.4Z" fill="#ff0000"/>
<path d="M639.6 177.0L642.6 182.7L636.6 182.7Z" fill="#ff0000"/>
<path d="M643.5 172.6L646.5 178.3L640.5 178.3Z" fill="#ff0000"/>
<path d="M647.5 168.2L650.5 173.9L644.5 173.9Z" fill="#ff0000"/>
<path d="M650.5 164.0L653.5 169.7L647.5 169.7Z" fill="#ff0000"/>
<path d="M653.1 160.1L656.1 165.8L650.1 165.8Z" fill="#ff0000"/>
<path d="M657.1 151.4L660.1 157.1L654.1 157.1Z" fill="#ff0000"/>
<path d="M660.9 146.4L663.9 152.1L657.9 152.1Z" fill="#ff0000"/>
<path d="M664.2 124.0L667.2 129.7L661.2 129.7Z" fill="#ff0000"/>
<path d="M401.0 225.3 L403.0 226.8 L405.0 226.5 L407.0 227.2 L409.0 227.9 L411.0 227.3 L413.0 227.5 L415.0 227.0 L417.0 227.5 L419.0 228.2 L421.0 228.7 L423.0 229.2 L425.0 228.4 L427.0 227.9 L429.0 228.3 L431.0 229.5 L433.0 228.3 L435.0 228.8 L437.0 229.7 L439.0 228.1 L441.0 229.2 L443.0 229.8 L445.0 228.6 L447.0 229.2 L449.0 229.7 L451.0 228.2 L453.0 228.8 L455.0 229.1 L457.0 228.8 L459.0 228.4 L461.0 227.8 L463.0 228.2 L465.0 227.8 L467.0 227.9 L469.0 227.6 L471.0 228.3 L473.0 228.1 L475.0 227.1 L477.0 227.5 L479.0 226.8 L481.0 227.0 L483.0 226.7 L485.0 227.1 L487.0 226.5 L489.0 226.5 L491.0 226.9 L493.0 226.2 L495.0 227.0 L497.0 225.6 L499.0 226.4 L501.0 225.6 L503.0 225.4 L505.0 225.6 L507.0 225.2 L509.0 224.8 L511.0 223.8 L513.0 223.8 L515.0 224.6 L517.0 224.0 L519.0 224.0 L521.0 224.2 L523.0 223.4 L525.0 222.0 L527.0 222.2 L529.0 222.4 L531.0 221.5 L533.0 222.5 L535.0 222.2 L537.0 221.8 L539.0 220.7 L541.0 220.9 L543.0 219.2 L545.0 219.1 L547.0 218.9 L549.0 218.9 L551.0 218.0 L553.0 216.9 L555.0 216.8 L557.0 216.4 L559.0 215.9 L561.0 215.2 L563.0 215.1 L565.0 214.7 L567.0 214.8 L569.0 214.4 L571.0 213.4 L573.0 212.8 L575.0 212.9 L577.0 212.6 L579.0 211.8 L581.0 211.5 L583.0 211.3 L585.0 209.2 L587.0 210.2 L589.0 208.8 L591.0 208.9 L594.9 209.1 L598.8 208.5 L602.7 207.1 L606.6 207.6 L610.5 206.1 L614.4 206.2 L618.3 206.6 L622.2 205.4 L626.1 205.3 L630.0 205.1 L633.9 204.8 L637.8 204.3 L641.7 202.3 L645.6 202.5 L649.5 201.9 L653.4 200.4 L657.3 200.0 L661.2 198.6 L664.4 196.5" fill="none" stroke="#0000ff" stroke-width="1"/>
<path d="M401.0 222.2L404.1 225.3L401.0 228.4L397.9 225.3Z" fill="#0000ff"/>
<path d="M403.0 223.7L406.1 226.8L403.0 229.9L399.9 226.8Z" fill="#0000ff"/>
<path d="M405.0 223.4L408.1 226.5L405.0 229.6L401.9 226.5Z" fill="#0000ff"/>
<path d="M407.0 224.1L410.1 227.2L407.0 230.3L403.9 227.2Z" fill="#0000ff"/>
<path d="M409.0 224.8L412.1 227.9L409.0 231.0L405.9 227.9Z" fill="#0000ff"/>
<path d="M411.0 224.2L414.1 227.3L411.0 230.4L407.9 227.3Z" fill="#0000ff"/>
<path d="M413.0 224.4L416.1 227.5L413.0 230.6L409.9 227.5Z" fill="#0000ff"/>
<path d="M415.0 223.9L418.1 227.0L415.0 230.1L411.9 227.0Z" fill="#0000ff"/>
<path d="M417.0 224.4L420.1 227.5L417.0 230.6L413.9 227.5Z" fill="#0000ff"/>
<path d="M419.0 225.1L422.1 228.2L419.0 231.3L415.9 228.2Z" fill="#0000ff"/>
<path d="M421.0 225.6L424.1 228.7L421.0 231.8L417.9 228.7Z" fill="#0000ff"/>
<path d="M423.0 226.1L426.1 229.2L423.0 232.3L419.9 229.2Z" fill="#0000ff"/>
<path d="M425.0 225.3L428.1 228.4L425.0 231.5L421.9 228.4Z" fill="#0000ff"/>
<path d="M427.0 224.8L430.1 227.9L427.0 231.0L423.9 227.9Z" fill="#0000ff"/>
<path d="M429.0 225.2L432.1 228.3L429.0 231.4L425.9 228.3Z" fill="#0000ff"/>
<path d="M431.0 226.4L434.1 229.5L431.0 232.6L427.9 229.5Z" fill="#0000ff"/>
<path d="M433.0 225.2L436.1 228.3L433.0 231.4L429.9 228.3Z" fill="#0000ff"/>
<path d="M435.0 225.7L438.1 228.8L435.0 231.9L431.9 228.8Z" fill="#0000ff"/>
<path d="M437.0 226.6L440.1 229.7L437.0 232.8L433.9 229.7Z" fill="#0000ff"/>
<path d="M439.0 225.0L442.1 228.1L439.0 231.2L435.9 228.1Z" fill="#0000ff"/>
<path d="M441.0 226.1L444.1 229.2L441.0 232.3L437.9 229.2Z" fill="#0000ff"/>
<path d="M443.0 226.7L446.1 229.8L443.0 232.9L439.9 229.8Z" fill="#0000ff"/>
<path d="M445.0 225.5L448.1 228.6L445.0 231.7L441.9 228.6Z" fill="#0000ff"/>
<path d="M447.0 226.1L450.1 229.2L447.0 232.3L443.9 229.2Z" fill="#0000ff"/>
<path d="M449.0 226.6L452.1 229.7L449.0 232.8L445.9 229.7Z" fill="#0000ff"/>
<path d="M451.0 225.1L454.1 228.2L451.0 231.3L447.9 228.2Z" fill="#0000ff"/>
<path d="M453.0 225.7L456.1 228.8L453.0 231.9L449.9 228.8Z" fill="#0000ff"/>
<path d="M455.0 226.0L458.1 229.1L455.0 232.2L451.9 229.1Z" fill="#0000ff"/>
<path d="M457.0 225.7L460.1 228.8L457.0 231.9L453.9 228.8Z" fill="#0000ff"/>
<path d="M459.0 225.3L462.1 228.4L459.0 231.5L455.9 228.4Z" fill="#0000ff"/>
<path d="M461.0 224.7L464.1 227.8L461.0 230.9L457.9 227.8Z" fill="#0000ff"/>
<path d="M463.0 225.1L466.1 228.2L463.0 231.3L459.9 228.2Z" fill="#0000ff"/>
<path d="M465.0 224.7L468.1 227.8L465.0 230.9L461.9 227.8Z" fill="#0000ff"/>
<path d="M467.0 224.8L470.1 227.9L467.0 231.0L463.9 227.9Z" fill="#0000ff"/>
<path d="M469.0 224.5L472.1 227.6L469.0 230.7L465.9 227.6Z" fill="#0000ff"/>
<path d="M471.0 225.2L474.1 228.3L471.0 231.4L467.9 228.3Z" fill="#0000ff"/>
<path d="M473.0 225.0L476.1 228.1L473.0 231.2L469.9 228.1Z" fill="#0000ff"/>
<path d="M475.0 224.0L478.1 227.1L475.0 230.2L471.9 227.1Z" fill="#0000ff"/>
<path d="M477.0 224.4L480.1 227.5L477.0 230.6L473.9 227.5Z" fill="#0000ff"/>
<path d="M479.0 223.7L482.1 226.8L479.0 229.9L475.9 226.8Z" fill="#0000ff"/>
<path d="M481.0 223.9L484.1 227.0L481.0 230.1L477.9 227.0Z" fill="#0000ff"/>
<path d="M483.0 223.6L486.1 226.7L483.0 229.8L479.9 226.7Z" fill="#0000ff"/>
<path d="M485.0 224.0L488.1 227.1L485.0 230.2L481.9 227.1Z" fill="#0000ff"/>
<path d="M487.0 223.4L490.1 226.5L487.0 229.6L483.9 226.5Z" fill="#0000ff"/>
<path d="M489.0 223.4L492.1 226.5L489.0 229.6L485.9 226.5Z" fill="#0000ff"/>
<path d="M491.0 223.8L494.1 226.9L491.0 230.0L487.9 226.9Z" fill="#0000ff"/>
<path d="M493.0 223.1L496.1 226.2L493.0 229.3L489.9 226.2Z" fill="#0000ff"/>
<path d="M495.0 223.9L498.1 227.0L495.0 230.1L491.9 227.0Z" fill="#0000ff"/>
<path d="M497.0 222.5L500.1 225.6L497.0 228.7L493.9 225.6Z" fill="#0000ff"/>
<path d="M499.0 223.3L502.1 226.4L499.0 229.5L495.9 226.4Z" fill="#0000ff"/>
<path d="M501.0 222.5L504.1 225.6L501.0 228.7L497.9 225.6Z" fill="#0000ff"/>
<path d="M503.0 222.3L506.1 225.4L503.0 228.5L499.9 225.4Z" fill="#0000ff"/>
<path d="M505.0 222.5L508.1 225.6L505.0 228.7L501.9 225.6Z" fill="#0000ff"/>
<path d="M507.0 222.1L510.1 225.2L507.0 228.3L503.9 225.2Z" fill="#0000ff"/>
<path d="M509.0 221.7L512.1 224.8L509.0 227.9L505.9 224.8Z" fill="#0000ff"/>
<path d="M511.0 220.7L514.1 223.8L511.0 226.9L507.9 223.8Z" fill="#0000ff"/>
<path d="M513.0 220.7L516.1 223.8L513.0 226.9L509.9 223.8Z" fill="#0000ff"/>
<path d="M515.0 221.5L518.1 224.6L515.0 227.7L511.9 224.6Z" fill="#0000ff"/>
<path d="M517.0 220.9L520.1 224.0L517.0 227.1L513.9 224.0Z" fill="#0000ff"/>
<path d="M519.0 220.9L522.1 224.0L519.0 227.1L515.9 224.0Z" fill="#0000ff"/>
<path d="M521.0 221.1L524.1 224.2L521.0 227.3L517.9 224.2Z" fill="#0000ff"/>
<path d="M523.0 220.3L526.1 223.4L523.0 226.5L519.9 223.4Z" fill="#0000ff"/>
<path d="M525.0 218.9L528.1 222.0L525.0 225.1L521.9 222.0Z" fill="#0000ff"/>
<path d="M527.0 219.1L530.1 222.2L527.0 225.3L523.9 222.2Z" fill="#0000ff"/>
<path d="M529.0 219.3L532.1 222.4L529.0 225.5L525.9 222.4Z" fill="#0000ff"/>
<path d="M531.0 218.4L534.1 221.5L531.0 224.6L527.9 221.5Z" fill="#0000ff"/>
<path d="M533.0 219.4L536.1 222.5L533.0 225.6L529.9 222.5Z" fill="#0000ff"/>
<path d="M535.0 219.1L538.1 222.2L535.0 225.3L531.9 222.2Z" fill="#0000ff"/>
<path d="M537.0 218.7L540.1 221.8L537.0 224.9L533.9 221.8Z" fill="#0000ff"/>
<path d="M539.0 217.6L542.1 220.7L539.0 223.8L535.9 220.7Z" fill="#0000ff"/>
<path d="M541.0 217.8L544.1 220.9L541.0 224.0L537.9 220.9Z" fill="#0000ff"/>
<path d="M543.0 216.1L546.1 219.2L543.0 222.3L539.9 219.2Z" fill="#0000ff"/>
<path d="M545.0 216.0L548.1 219.1L545.0 222.2L541.9 219.1Z" fill="#0000ff"/>
<path d="M547.0 215.8L550.1 218.9L547.0 222.0L543.9 218.9Z" fill="#0000ff"/>
<path d="M549.0 215.8L552.1 218.9L549.0 222.0L545.9 218.9Z" fill="#0000ff"/>
<path d="M551.0 214.9L554.1 218.0L551.0 221.1L547.9 218.0Z" fill="#0000ff"/>
<path d="M553.0 213.8L556.1 216.9L553.0 220.0L549.9 216.9Z" fill="#0000ff"/>
<path d="M555.0 213.7L558.1 216.8L555.0 219.9L551.9 216.8Z" fill="#0000ff"/>
<path d="M557.0 213.3L560.1 216.4L557.0 219.5L553.9 216.4Z" fill="#0000ff"/>
<path d="M559.0 212.8L562.1 215.9L559.0 219.0L555.9 215.9Z" fill="#0000ff"/>
<path d="M561.0 212.1L564.1 215.2L561.0 218.3L557.9 215.2Z" fill="#0000ff"/>
<path d="M563.0 212.0L566.1 215.1L563.0 218.2L559.9 215.1Z" fill="#0000ff"/>
<path d="M565.0 211.6L568.1 214.7L565.0 217.8L561.9 214.7Z" fill="#0000ff"/>
<path d="M567.0 211.7L570.1 214.8L567.0 217.9L563.9 214.8Z" fill="#0000ff"/>
<path d="M569.0 211.3L572.1 214.4L569.0 217.5L565.9 214.4Z" fill="#0000ff"/>
<path d="M571.0 210.3L574.1 213.4L571.0 216.5L567.9 213.4Z" fill="#0000ff"/>
<path d="M573.0 209.7L576.1 212.8L573.0 215.9L569.9 212.8Z" fill="#0000ff"/>
<path d="M575.0 209.8L578.1 212.9L575.0 216.0L571.9 212.9Z" fill="#0000ff"/>
<path d="M577.0 209.5L580.1 212.6L577.0 215.7L573.9 212.6Z" fill="#0000ff"/>
<path d="M579.0 208.7L582.1 211.8L579.0 214.9L575.9 211.8Z" fill="#0000ff"/>
<path d="M581.0 208.4L584.1 211.5L581.0 214.6L577.9 211.5Z" fill="#0000ff"/>
<path d="M583.0 208.2L586.1 211.3L583.0 214.4L579.9 211.3Z" fill="#0000ff"/>
<path d="M585.0 206.1L588.1 209.2L585.0 212.3L581.9 209.2Z" fill="#0000ff"/>
<path d="M587.0 207.1L590.1 210.2L587.0 213.3L583.9 210.2Z" fill="#0000ff"/>
<path d="M589.0 205.7L592.1 208.8L589.0 211.9L585.9 208.8Z" fill="#0000ff"/>
<path d="M591.0 205.8L594.1 208.9L591.0 212.0L587.9 208.9Z" fill="#0000ff"/>
<path d="M594.9 206.0L598.0 209.1L594.9 212.2L591.8 209.1Z" fill="#0000ff"/>
<path d="M598.8 205.4L601.9 208.5L598.8 211.6L595.7 208.5Z" fill="#0000ff"/>
<path d="M602.7 204.0L605.8 207.1L602.7 210.2L599.6 207.1Z" fill="#0000ff"/>
<path d="M606.6 204.5L609.7 207.6L606.6 210.7L603.5 207.6Z" fill="#0000ff"/>
<path d="M610.5 203.0L613.6 206.1L610.5 209.2L607.4 206.1Z" fill="#0000ff"/>
<path d="M614.4 203.1L617.5 206.2L614.4 209.3L611.3 206.2Z" fill="#0000ff"/>
<path d="M618.3 203.5L621.4 206.6L618.3 209.7L615.2 206.6Z" fill="#0000ff"/>
<path d="M622.2 202.3L625.3 205.4L622.2 208.5L619.1 205.4Z" fill="#0000ff"/>
<path d="M626.1 202.2L629.2 205.3L626.1 208.4L623.0 205.3Z" fill="#0000ff"/>
<path d="M630.0 202.0L633.1 205.1L630.0 208.2L626.9 205.1Z" fill="#0000ff"/>
<path d="M633.9 201.7L637.0 204.8L633.9 207.9L630.8 204.8Z" fill="#0000ff"/>
<path d="M637.8 201.2L640.9 204.3L637.8 207.4L634.7 204.3Z" fill="#0000ff"/>
<path d="M641.7 199.2L644.8 202.3L641.7 205.4L638.6 202.3Z" fill="#0000ff"/>
<path d="M645.6 199.4L648.7 202.5L645.6 205.6L642.5 202.5Z" fill="#0000ff"/>
<path d="M649.5 198.8L652.6 201.9L649.5 205.0L646.4 201.9Z" fill="#0000ff"/>
<path d="M653.4 197.3L656.5 200.4L653.4 203.5L650.3 200.4Z" fill="#0000ff"/>
<path d="M657.3 196.9L660.4 200.0L657.3 203.1L654.2 200.0Z" fill="#0000ff"/>
<path d="M661.2 195.5L664.3 198.6L661.2 201.7L658.1 198.6Z" fill="#0000ff"/>
<path d="M664.4 193.4L667.5 196.5L664.4 199.6L661.3 196.5Z" fill="#0000ff"/>
<path d="M401.0 229.3 L403.0 229.7 L405.0 229.8 L407.0 229.5 L409.0 229.2 L411.0 229.1 L413.0 230.1 L415.0 230.4 L417.0 230.9 L419.0 231.1 L421.0 231.5 L423.0 231.7 L425.0 232.1 L427.0 232.0 L429.0 231.8 L431.0 231.5 L433.0 231.2 L435.0 232.5 L437.0 231.3 L439.0 231.1 L441.0 230.8 L443.0 232.5 L445.0 230.9 L447.0 231.3 L449.0 230.7 L451.0 230.8 L453.0 231.0 L455.0 231.7 L457.0 230.6 L459.0 231.6 L461.0 229.7 L463.0 230.1 L465.0 230.0 L467.0 230.5 L469.0 230.7 L471.0 229.4 L473.0 229.4 L475.0 229.0 L477.0 229.8 L479.0 229.3 L481.0 228.1 L483.0 228.9 L485.0 229.1 L487.0 227.6 L489.0 228.2 L491.0 228.6 L493.0 228.8 L495.0 228.0 L497.0 226.8 L499.0 227.3 L501.0 226.7 L503.0 227.3 L505.0 226.3 L507.0 226.0 L509.0 226.5 L511.0 225.5 L513.0 226.4 L515.0 226.6 L517.0 226.4 L519.0 225.2 L521.0 225.4 L523.0 225.4 L525.0 224.9 L527.0 224.7 L529.0 223.6 L531.0 223.6 L533.0 224.0 L535.0 223.9 L537.0 223.2 L539.0 223.6 L541.0 223.3 L543.0 223.1 L545.0 222.0 L547.0 221.8 L549.0 222.1 L551.0 221.3 L553.0 221.1 L555.0 220.4 L557.0 220.6 L559.0 220.0 L561.0 219.9 L563.0 218.3 L565.0 218.1 L567.0 218.0 L569.0 217.6 L571.0 217.5 L573.0 217.5 L575.0 216.5 L577.0 216.9 L579.0 216.1 L581.0 214.8 L583.0 215.2 L585.0 214.7 L587.0 214.7 L589.0 214.3 L591.0 212.9 L594.9 211.7 L598.8 211.7 L602.7 209.9 L606.6 210.9 L610.5 210.0 L614.4 210.5 L618.3 210.1 L622.2 208.3 L626.1 209.1 L630.0 208.6 L633.9 207.3 L637.8 207.7 L641.7 207.9 L645.6 207.1 L649.5 205.6 L653.4 205.7 L657.3 205.0 L661.2 203.6 L664.6 204.8" fill="none" stroke="#00ff00" stroke-width="1"/>
<path d="M401.0 232.6L404.3 226.3L397.7 226.3Z" fill="#00ff00"/>
<path d="M403.0 233.0L406.3 226.8L399.7 226.8Z" fill="#00ff00"/>
<path d="M405.0 233.1L408.3 226.9L401.7 226.9Z" fill="#00ff00"/>
<path d="M407.0 232.8L410.3 226.5L403.7 226.5Z" fill="#00ff00"/>
<path d="M409.0 232.5L412.3 226.3L405.7 226.3Z" fill="#00ff00"/>
<path d="M411.0 232.4L414.3 226.1L407.7 226.1Z" fill="#00ff00"/>
<path d="M413.0 233.4L416.3 227.2L409.7 227.2Z" fill="#00ff00"/>
<path d="M415.0 233.7L418.3 227.4L411.7 227.4Z" fill="#00ff00"/>
<path d="M417.0 234.2L420.3 227.9L413.7 227.9Z" fill="#00ff00"/>
<path d="M419.0 234.4L422.3 228.1L415.7 228.1Z" fill="#00ff00"/>
<path d="M421.0 234.8L424.3 228.5L417.7 228.5Z" fill="#00ff00"/>
<path d="M423.0 235.0L426.3 228.7L419.7 228.7Z" fill="#00ff00"/>
<path d="M425.0 235.4L428.3 229.1L421.7 229.1Z" fill="#00ff00"/>
<path d="M427.0 235.3L430.3 229.0L423.7 229.0Z" fill="#00ff00"/>
<path d="M429.0 235.1L432.3 228.8L425.7 228.8Z" fill="#00ff00"/>
<path d="M431.0 234.8L434.3 228.5L427.7 228.5Z" fill="#00ff00"/>
<path d="M433.0 234.5L436.3 228.3L429.7 228.3Z" fill="#00ff00"/>
<path d="M435.0 235.8L438.3 229.5L431.7 229.5Z" fill="#00ff00"/>
<path d="M437.0 234.6L440.3 228.3L433.7 228.3Z" fill="#00ff00"/>
<path d="M439.0 234.4L442.3 228.1L435.7 228.1Z" fill="#00ff00"/>
<path d="M441.0 234.1L444.3 227.8L437.7 227.8Z" fill="#00ff00"/>
<path d="M443.0 235.8L446.3 229.5L439.7 229.5Z" fill="#00ff00"/>
<path d="M445.0 234.2L448.3 228.0L441.7 228.0Z" fill="#00ff00"/>
<path d="M447.0 234.6L450.3 228.3L443.7 228.3Z" fill="#00ff00"/>
<path d="M449.0 234.0L452.3 227.7L445.7 227.7Z" fill="#00ff00"/>
<path d="M451.0 234.1L454.3 227.9L447.7 227.9Z" fill="#00ff00"/>
<path d="M453.0 234.3L456.3 228.0L449.7 228.0Z" fill="#00ff00"/>
<path d="M455.0 235.0L458.3 228.7L451.7 228.7Z" fill="#00ff00"/>
<path d="M457.0 233.9L460.3 227.6L453.7 227.6Z" fill="#00ff00"/>
<path d="M459.0 234.9L462.3 228.6L455.7 228.6Z" fill="#00ff00"/>
<path d="M461.0 233.0L464.3 226.7L457.7 226.7Z" fill="#00ff00"/>
<path d="M463.0 233.4L466.3 227.1L459.7 227.1Z" fill="#00ff00"/>
<path d="M465.0 233.3L468.3 227.0L461.7 227.0Z" fill="#00ff00"/>
<path d="M467.0 233.8L470.3 227.5L463.7 227.5Z" fill="#00ff00"/>
<path d="M469.0 234.0L472.3 227.7L465.7 227.7Z" fill="#00ff00"/>
<path d="M471.0 232.7L474.3 226.4L467.7 226.4Z" fill="#00ff00"/>
<path d="M473.0 232.7L476.3 226.5L469.7 226.5Z" fill="#00ff00"/>
<path d="M475.0 232.3L478.3 226.0L471.7 226.0Z" fill="#00ff00"/>
<path d="M477.0 233.1L480.3 226.8L473.7 226.8Z" fill="#00ff00"/>
<path d="M479.0 232.6L482.3 226.4L475.7 226.4Z" fill="#00ff00"/>
<path d="M481.0 231.4L484.3 225.2L477.7 225.2Z" fill="#00ff00"/>
<path d="M483.0 232.2L486.3 226.0L479.7 226.0Z" fill="#00ff00"/>
<path d="M485.0 232.4L488.3 226.2L481.7 226.2Z" fill="#00ff00"/>
<path d="M487.0 230.9L490.3 224.6L483.7 224.6Z" fill="#00ff00"/>
<path d="M489.0 231.5L492.3 225.2L485.7 225.2Z" fill="#00ff00"/>
<path d="M491.0 231.9L494.3 225.7L487.7 225.7Z" fill="#00ff00"/>
<path d="M493.0 232.1L496.3 225.9L489.7 225.9Z" fill="#00ff00"/>
<path d="M495.0 231.3L498.3 225.0L491.7 225.0Z" fill="#00ff00"/>
<path d="M497.0 230.1L500.3 223.8L493.7 223.8Z" fill="#00ff00"/>
<path d="M499.0 230.6L502.3 224.4L495.7 224.4Z" fill="#00ff00"/>
<path d="M501.0 230.0L504.3 223.7L497.7 223.7Z" fill="#00ff00"/>
<path d="M503.0 230.6L506.3 224.3L499.7 224.3Z" fill="#00ff00"/>
<path d="M505.0 229.6L508.3 223.3L501.7 223.3Z" fill="#00ff00"/>
<path d="M507.0 229.3L510.3 223.0L503.7 223.0Z" fill="#00ff00"/>
<path d="M509.0 229.8L512.3 223.5L505.7 223.5Z" fill="#00ff00"/>
<path d="M511.0 228.8L514.3 222.5L507.7 222.5Z" fill="#00ff00"/>
<path d="M513.0 229.7L516.3 223.4L509.7 223.4Z" fill="#00ff00"/>
<path d="M515.0 229.9L518.3 223.6L511.7 223.6Z" fill="#00ff00"/>
<path d="M517.0 229.7L520.3 223.5L513.7 223.5Z" fill="#00ff00"/>
<path d="M519.0 228.5L522.3 222.3L515.7 222.3Z" fill="#00ff00"/>
<path d="M521.0 228.7L524.3 222.5L517.7 222.5Z" fill="#00ff00"/>
<path d="M523.0 228.7L526.3 222.4L519.7 222.4Z" fill="#00ff00"/>
<path d="M525.0 228.2L528.3 221.9L521.7 221.9Z" fill="#00ff00"/>
<path d="M527.0 228.0L530.3 221.7L523.7 221.7Z" fill="#00ff00"/>
<path d="M529.0 226.9L532.3 220.7L525.7 220.7Z" fill="#00ff00"/>
<path d="M531.0 226.9L534.3 220.6L527.7 220.6Z" fill="#00ff00"/>
<path d="M533.0 227.3L536.3 221.1L529.7 221.1Z" fill="#00ff00"/>
<path d="M535.0 227.2L538.3 220.9L531.7 220.9Z" fill="#00ff00"/>
<path d="M537.0 226.5L540.3 220.3L533.7 220.3Z" fill="#00ff00"/>
<path d="M539.0 226.9L542.3 220.6L535.7 220.6Z" fill="#00ff00"/>
<path d="M541.0 226.6L544.3 220.3L537.7 220.3Z" fill="#00ff00"/>
<path d="M543.0 226.4L546.3 220.1L539.7 220.1Z" fill="#00ff00"/>
<path d="M545.0 225.3L548.3 219.0L541.7 219.0Z" fill="#00ff00"/>
<path d="M547.0 225.1L550.3 218.8L543.7 218.8Z" fill="#00ff00"/>
<path d="M549.0 225.4L552.3 219.2L545.7 219.2Z" fill="#00ff00"/>
<path d="M551.0 224.6L554.3 218.3L547.7 218.3Z" fill="#00ff00"/>
<path d="M553.0 224.4L556.3 218.2L549.7 218.2Z" fill="#00ff00"/>
<path d="M555.0 223.7L558.3 217.4L551.7 217.4Z" fill="#00ff00"/>
<path d="M557.0 223.9L560.3 217.6L553.7 217.6Z" fill="#00ff00"/>
<path d="M559.0 223.3L562.3 217.0L555.7 217.0Z" fill="#00ff00"/>
<path d="M561.0 223.2L564.3 216.9L557.7 216.9Z" fill="#00ff00"/>
<path d="M563.0 221.6L566.3 215.3L559.7 215.3Z" fill="#00ff00"/>
<path d="M565.0 221.4L568.3 215.1L561.7 215.1Z" fill="#00ff00"/>
<path d="M567.0 221.3L570.3 215.0L563.7 215.0Z" fill="#00ff00"/>
<path d="M569.0 220.9L572.3 214.7L565.7 214.7Z" fill="#00ff00"/>
<path d="M571.0 220.8L574.3 214.5L567.7 214.5Z" fill="#00ff00"/>
<path d="M573.0 220.8L576.3 214.5L569.7 214.5Z" fill="#00ff00"/>
<path d="M575.0 219.8L578.3 213.6L571.7 213.6Z" fill="#00ff00"/>
<path d="M577.0 220.2L580.3 213.9L573.7 213.9Z" fill="#00ff00"/>
<path d="M579.0 219.4L582.3 213.2L575.7 213.2Z" fill="#00ff00"/>
<path d="M581.0 218.1L584.3 211.8L577.7 211.8Z" fill="#00ff00"/>
<path d="M583.0 218.5L586.3 212.2L579.7 212.2Z" fill="#00ff00"/>
<path d="M585.0 218.0L588.3 211.7L581.7 211.7Z" fill="#00ff00"/>
<path d="M587.0 218.0L590.3 211.7L583.7 211.7Z" fill="#00ff00"/>
<path d="M589.0 217.6L592.3 211.3L585.7 211.3Z" fill="#00ff00"/>
<path d="M591.0 216.2L594.3 209.9L587.7 209.9Z" fill="#00ff00"/>
<path d="M594.9 215.0L598.2 208.7L591.6 208.7Z" fill="#00ff00"/>
<path d="M598.8 215.0L602.1 208.7L595.5 208.7Z" fill="#00ff00"/>
<path d="M602.7 213.2L606.0 206.9L599.4 206.9Z" fill="#00ff00"/>
<path d="M606.6 214.2L609.9 207.9L603.3 207.9Z" fill="#00ff00"/>
<path d="M610.5 213.3L613.8 207.0L607.2 207.0Z" fill="#00ff00"/>
<path d="M614.4 213.8L617.7 207.5L611.1 207.5Z" fill="#00ff00"/>
<path d="M618.3 213.4L621.6 207.1L615.0 207.1Z" fill="#00ff00"/>
<path d="M622.2 211.6L625.5 205.4L618.9 205.4Z" fill="#00ff00"/>
<path d="M626.1 212.4L629.4 206.1L622.8 206.1Z" fill="#00ff00"/>
<path d="M630.0 211.9L633.3 205.7L626.7 205.7Z" fill="#00ff00"/>
<path d="M633.9 210.6L637.2 204.3L630.6 204.3Z" fill="#00ff00"/>
<path d="M637.8 211.0L641.1 204.7L634.5 204.7Z" fill="#00ff00"/>
<path d="M641.7 211.2L645.0 204.9L638.4 204.9Z" fill="#00ff00"/>
<path d="M645.6 210.4L648.9 204.1L642.3 204.1Z" fill="#00ff00"/>
<path d="M649.5 208.9L652.8 202.6L646.2 202.6Z" fill="#00ff00"/>
<path d="M653.4 209.0L656.7 202.8L650.1 202.8Z" fill="#00ff00"/>
<path d="M657.3 208.3L660.6 202.1L654.0 202.1Z" fill="#00ff00"/>
<path d="M661.2 206.9L664.5 200.6L657.9 200.6Z" fill="#00ff00"/>
<path d="M664.6 208.1L667.9 201.8L661.3 201.8Z" fill="#00ff00"/>
</g>
<rect x="34" y="6.4" width="301.5" height="224.29999999999998" fill="none" stroke="#000" stroke-width="1.2"/>
<rect x="390.3" y="2.9" width="293.3" height="233.29999999999998" fill="none" stroke="#000" stroke-width="1.2"/>
<path d="M29.5 6.4H34" stroke="#000" stroke-width="1"/>
<text x="14.4" y="10.8" textLength="11.6" lengthAdjust="spacingAndGlyphs" style="font-family:'Liberation Sans',sans-serif;font-weight:normal;font-size:11.5px;fill:#000;stroke:#000;stroke-width:0.45px;font-size:10.5px">50</text>
<path d="M29.5 65.3H34" stroke="#000" stroke-width="1"/>
<text x="14.4" y="69.7" textLength="11.6" lengthAdjust="spacingAndGlyphs" style="font-family:'Liberation Sans',sans-serif;font-weight:normal;font-size:11.5px;fill:#000;stroke:#000;stroke-width:0.45px;font-size:10.5px">45</text>
<path d="M29.5 124.8H34" stroke="#000" stroke-width="1"/>
<text x="14.4" y="129.2" textLength="11.6" lengthAdjust="spacingAndGlyphs" style="font-family:'Liberation Sans',sans-serif;font-weight:normal;font-size:11.5px;fill:#000;stroke:#000;stroke-width:0.45px;font-size:10.5px">40</text>
<path d="M29.5 183.5H34" stroke="#000" stroke-width="1"/>
<text x="14.4" y="187.9" textLength="11.6" lengthAdjust="spacingAndGlyphs" style="font-family:'Liberation Sans',sans-serif;font-weight:normal;font-size:11.5px;fill:#000;stroke:#000;stroke-width:0.45px;font-size:10.5px">35</text>
<path d="M32 36H34" stroke="#000" stroke-width="1"/>
<path d="M32 95H34" stroke="#000" stroke-width="1"/>
<path d="M32 154H34" stroke="#000" stroke-width="1"/>
<path d="M32 213H34" stroke="#000" stroke-width="1"/>
<path d="M34.3 230.7V235.5" stroke="#000" stroke-width="1"/>
<text x="31.1" y="248.2" textLength="5.5" lengthAdjust="spacingAndGlyphs" style="font-family:'Liberation Sans',sans-serif;font-weight:normal;font-size:11.5px;fill:#000;stroke:#000;stroke-width:0.45px">0</text>
<path d="M54.3 230.7V233.2" stroke="#000" stroke-width="1"/>
<path d="M74.3 230.7V235.5" stroke="#000" stroke-width="1"/>
<text x="65.6" y="248.2" textLength="16.5" lengthAdjust="spacingAndGlyphs" style="font-family:'Liberation Sans',sans-serif;font-weight:normal;font-size:11.5px;fill:#000;stroke:#000;stroke-width:0.45px">100</text>
<path d="M94.3 230.7V233.2" stroke="#000" stroke-width="1"/>
<path d="M114.3 230.7V235.5" stroke="#000" stroke-width="1"/>
<text x="105.6" y="248.2" textLength="16.5" lengthAdjust="spacingAndGlyphs" style="font-family:'Liberation Sans',sans-serif;font-weight:normal;font-size:11.5px;fill:#000;stroke:#000;stroke-width:0.45px">200</text>
<path d="M134.3 230.7V233.2" stroke="#000" stroke-width="1"/>
<path d="M154.3 230.7V235.5" stroke="#000" stroke-width="1"/>
<text x="145.7" y="248.2" textLength="16.5" lengthAdjust="spacingAndGlyphs" style="font-family:'Liberation Sans',sans-serif;font-weight:normal;font-size:11.5px;fill:#000;stroke:#000;stroke-width:0.45px">300</text>
<path d="M174.3 230.7V233.2" stroke="#000" stroke-width="1"/>
<path d="M194.3 230.7V235.5" stroke="#000" stroke-width="1"/>
<text x="185.7" y="248.2" textLength="16.5" lengthAdjust="spacingAndGlyphs" style="font-family:'Liberation Sans',sans-serif;font-weight:normal;font-size:11.5px;fill:#000;stroke:#000;stroke-width:0.45px">400</text>
<path d="M214.3 230.7V233.2" stroke="#000" stroke-width="1"/>
<path d="M234.3 230.7V235.5" stroke="#000" stroke-width="1"/>
<text x="225.7" y="248.2" textLength="16.5" lengthAdjust="spacingAndGlyphs" style="font-family:'Liberation Sans',sans-serif;font-weight:normal;font-size:11.5px;fill:#000;stroke:#000;stroke-width:0.45px">500</text>
<path d="M254.3 230.7V233.2" stroke="#000" stroke-width="1"/>
<path d="M274.3 230.7V235.5" stroke="#000" stroke-width="1"/>
<text x="265.7" y="248.2" textLength="16.5" lengthAdjust="spacingAndGlyphs" style="font-family:'Liberation Sans',sans-serif;font-weight:normal;font-size:11.5px;fill:#000;stroke:#000;stroke-width:0.45px">600</text>
<path d="M294.3 230.7V233.2" stroke="#000" stroke-width="1"/>
<path d="M314.3 230.7V235.5" stroke="#000" stroke-width="1"/>
<text x="305.7" y="248.2" textLength="16.5" lengthAdjust="spacingAndGlyphs" style="font-family:'Liberation Sans',sans-serif;font-weight:normal;font-size:11.5px;fill:#000;stroke:#000;stroke-width:0.45px">700</text>
<path d="M334.3 230.7V233.2" stroke="#000" stroke-width="1"/>
<path d="M385.8 236.2H390.3" stroke="#000" stroke-width="1"/>
<text x="367.2" y="239.9" textLength="16.6" lengthAdjust="spacingAndGlyphs" style="font-family:'Liberation Sans',sans-serif;font-weight:normal;font-size:11.5px;fill:#000;stroke:#000;stroke-width:0.45px;font-size:10.6px">0. 0</text>
<path d="M388.3 219.5H390.3" stroke="#000" stroke-width="1"/>
<path d="M385.8 202.9H390.3" stroke="#000" stroke-width="1"/>
<text x="367.2" y="206.6" textLength="16.6" lengthAdjust="spacingAndGlyphs" style="font-family:'Liberation Sans',sans-serif;font-weight:normal;font-size:11.5px;fill:#000;stroke:#000;stroke-width:0.45px;font-size:10.6px">0. 1</text>
<path d="M388.3 186.2H390.3" stroke="#000" stroke-width="1"/>
<path d="M385.8 169.6H390.3" stroke="#000" stroke-width="1"/>
<text x="367.2" y="173.3" textLength="16.6" lengthAdjust="spacingAndGlyphs" style="font-family:'Liberation Sans',sans-serif;font-weight:normal;font-size:11.5px;fill:#000;stroke:#000;stroke-width:0.45px;font-size:10.6px">0. 2</text>
<path d="M388.3 152.9H390.3" stroke="#000" stroke-width="1"/>
<path d="M385.8 136.3H390.3" stroke="#000" stroke-width="1"/>
<text x="367.2" y="140.0" textLength="16.6" lengthAdjust="spacingAndGlyphs" style="font-family:'Liberation Sans',sans-serif;font-weight:normal;font-size:11.5px;fill:#000;stroke:#000;stroke-width:0.45px;font-size:10.6px">0. 3</text>
<path d="M388.3 119.7H390.3" stroke="#000" stroke-width="1"/>
<path d="M385.8 103.0H390.3" stroke="#000" stroke-width="1"/>
<text x="367.2" y="106.7" textLength="16.6" lengthAdjust="spacingAndGlyphs" style="font-family:'Liberation Sans',sans-serif;font-weight:normal;font-size:11.5px;fill:#000;stroke:#000;stroke-width:0.45px;font-size:10.6px">0. 4</text>
<path d="M388.3 86.3H390.3" stroke="#000" stroke-width="1"/>
<path d="M385.8 69.7H390.3" stroke="#000" stroke-width="1"/>
<text x="367.2" y="73.4" textLength="16.6" lengthAdjust="spacingAndGlyphs" style="font-family:'Liberation Sans',sans-serif;font-weight:normal;font-size:11.5px;fill:#000;stroke:#000;stroke-width:0.45px;font-size:10.6px">0. 5</text>
<path d="M388.3 53.0H390.3" stroke="#000" stroke-width="1"/>
<path d="M385.8 36.4H390.3" stroke="#000" stroke-width="1"/>
<text x="367.2" y="40.1" textLength="16.6" lengthAdjust="spacingAndGlyphs" style="font-family:'Liberation Sans',sans-serif;font-weight:normal;font-size:11.5px;fill:#000;stroke:#000;stroke-width:0.45px;font-size:10.6px">0. 6</text>
<path d="M388.3 19.8H390.3" stroke="#000" stroke-width="1"/>
<path d="M385.8 3.1H390.3" stroke="#000" stroke-width="1"/>
<text x="367.2" y="6.8" textLength="16.6" lengthAdjust="spacingAndGlyphs" style="font-family:'Liberation Sans',sans-serif;font-weight:normal;font-size:11.5px;fill:#000;stroke:#000;stroke-width:0.45px;font-size:10.6px">0. 7</text>
<path d="M389.9 236.2V241.0" stroke="#000" stroke-width="1"/>
<text x="387.3" y="252.6" textLength="5.2" lengthAdjust="spacingAndGlyphs" style="font-family:'Liberation Sans',sans-serif;font-weight:normal;font-size:11.5px;fill:#000;stroke:#000;stroke-width:0.45px">0</text>
<path d="M409.6 236.2V238.2" stroke="#000" stroke-width="1"/>
<path d="M429.3 236.2V241.0" stroke="#000" stroke-width="1"/>
<text x="421.5" y="252.6" textLength="15.6" lengthAdjust="spacingAndGlyphs" style="font-family:'Liberation Sans',sans-serif;font-weight:normal;font-size:11.5px;fill:#000;stroke:#000;stroke-width:0.45px">100</text>
<path d="M449.0 236.2V238.2" stroke="#000" stroke-width="1"/>
<path d="M468.7 236.2V241.0" stroke="#000" stroke-width="1"/>
<text x="460.9" y="252.6" textLength="15.6" lengthAdjust="spacingAndGlyphs" style="font-family:'Liberation Sans',sans-serif;font-weight:normal;font-size:11.5px;fill:#000;stroke:#000;stroke-width:0.45px">200</text>
<path d="M488.4 236.2V238.2" stroke="#000" stroke-width="1"/>
<path d="M508.1 236.2V241.0" stroke="#000" stroke-width="1"/>
<text x="500.3" y="252.6" textLength="15.6" lengthAdjust="spacingAndGlyphs" style="font-family:'Liberation Sans',sans-serif;font-weight:normal;font-size:11.5px;fill:#000;stroke:#000;stroke-width:0.45px">300</text>
<path d="M527.8 236.2V238.2" stroke="#000" stroke-width="1"/>
<path d="M547.5 236.2V241.0" stroke="#000" stroke-width="1"/>
<text x="539.7" y="252.6" textLength="15.6" lengthAdjust="spacingAndGlyphs" style="font-family:'Liberation Sans',sans-serif;font-weight:normal;font-size:11.5px;fill:#000;stroke:#000;stroke-width:0.45px">400</text>
<path d="M567.2 236.2V238.2" stroke="#000" stroke-width="1"/>
<path d="M586.9 236.2V241.0" stroke="#000" stroke-width="1"/>
<text x="579.1" y="252.6" textLength="15.6" lengthAdjust="spacingAndGlyphs" style="font-family:'Liberation Sans',sans-serif;font-weight:normal;font-size:11.5px;fill:#000;stroke:#000;stroke-width:0.45px">500</text>
<path d="M606.6 236.2V238.2" stroke="#000" stroke-width="1"/>
<path d="M626.3 236.2V241.0" stroke="#000" stroke-width="1"/>
<text x="618.5" y="252.6" textLength="15.6" lengthAdjust="spacingAndGlyphs" style="font-family:'Liberation Sans',sans-serif;font-weight:normal;font-size:11.5px;fill:#000;stroke:#000;stroke-width:0.45px">600</text>
<path d="M646.0 236.2V238.2" stroke="#000" stroke-width="1"/>
<path d="M665.7 236.2V241.0" stroke="#000" stroke-width="1"/>
<text x="657.9" y="252.6" textLength="15.6" lengthAdjust="spacingAndGlyphs" style="font-family:'Liberation Sans',sans-serif;font-weight:normal;font-size:11.5px;fill:#000;stroke:#000;stroke-width:0.45px">700</text>
<rect x="36.5" y="8.5" width="78.0" height="54.0" fill="#fff" stroke="#000" stroke-width="1.2"/>
<path d="M37.5 16.5H60" stroke="#000" stroke-width="1.1"/>
<circle cx="48.8" cy="16.5" r="2.8" fill="#000"/>
<text x="66.5" y="20.1" textLength="40" lengthAdjust="spacingAndGlyphs" style="font-family:'Liberation Mono',monospace;font-weight:bold;font-size:12px;fill:#000;font-size:10.7px">50 k Hz</text>
<path d="M37.5 28.75H60" stroke="#ff0000" stroke-width="1.1"/>
<path d="M48.8 25.6L51.9 31.5L45.6 31.5Z" fill="#ff0000"/>
<text x="66.5" y="32.35" textLength="47.5" lengthAdjust="spacingAndGlyphs" style="font-family:'Liberation Mono',monospace;font-weight:bold;font-size:12px;fill:#000;font-size:10.7px">100 k Hz</text>
<path d="M37.5 42H60" stroke="#0000ff" stroke-width="1.1"/>
<path d="M48.8 37.9L52.1 42.0L48.8 46.1L45.4 42.0Z" fill="#0000ff"/>
<text x="66.5" y="45.6" textLength="47.2" lengthAdjust="spacingAndGlyphs" style="font-family:'Liberation Mono',monospace;font-weight:bold;font-size:12px;fill:#000;font-size:10.7px">500 k Hz</text>
<path d="M37.5 55H60" stroke="#00ff00" stroke-width="1.1"/>
<path d="M48.8 50.9L52.1 55.0L48.8 59.1L45.4 55.0Z" fill="#00ff00"/>
<text x="66.5" y="58.6" textLength="35.3" lengthAdjust="spacingAndGlyphs" style="font-family:'Liberation Mono',monospace;font-weight:bold;font-size:12px;fill:#000;font-size:10.7px">1 M Hz</text>
<rect x="392.3" y="5.5" width="72.30000000000001" height="50.1" fill="#fff" stroke="#000" stroke-width="1.2"/>
<path d="M393 11.75H413.75" stroke="#222" stroke-width="1.1"/>
<rect x="401.4" y="9.4" width="4.6" height="4.6" fill="#000"/>
<text x="419.4" y="15.55" textLength="38" lengthAdjust="spacingAndGlyphs" style="font-family:'Liberation Mono',monospace;font-weight:bold;font-size:12px;fill:#000;font-size:11.5px">50 k Hz</text>
<path d="M393 24.25H413.75" stroke="#ff2020" stroke-width="1.1"/>
<path d="M403.8 21.1L406.9 27.0L400.6 27.0Z" fill="#ff0000"/>
<text x="419.4" y="28.05" textLength="42.8" lengthAdjust="spacingAndGlyphs" style="font-family:'Liberation Mono',monospace;font-weight:bold;font-size:12px;fill:#000;font-size:11.5px">100 k Hz</text>
<path d="M393 36.6H413.75" stroke="#2060ff" stroke-width="1.1"/>
<path d="M403.8 32.5L407.1 36.6L403.8 40.7L400.4 36.6Z" fill="#0000ff"/>
<text x="419.4" y="39.5" textLength="42.8" lengthAdjust="spacingAndGlyphs" style="font-family:'Liberation Mono',monospace;font-weight:bold;font-size:12px;fill:#000;font-size:11.5px">500 k Hz</text>
<path d="M393 48.25H413.75" stroke="#30b050" stroke-width="1.1"/>
<path d="M403.8 51.1L406.6 45.6L400.9 45.6Z" fill="#00ff00"/>
<text x="419.4" y="52.05" textLength="33" lengthAdjust="spacingAndGlyphs" style="font-family:'Liberation Mono',monospace;font-weight:bold;font-size:12px;fill:#000;font-size:11.5px">1 M Hz</text>
<text x="159.8" y="260.2" textLength="50.2" lengthAdjust="spacingAndGlyphs" style="font-family:'Liberation Serif','Noto Serif CJK SC',serif;fill:#000;font-size:12.5px">Temp (<tspan font-weight="bold">℃</tspan>)</text>
<text x="515" y="263.9" textLength="43.2" lengthAdjust="spacingAndGlyphs" style="font-family:'Liberation Serif','Noto Serif CJK SC',serif;fill:#000;font-size:13.5px">Temp(°C)</text>
<text transform="translate(14,119.5) rotate(-90)" style="font-family:'Liberation Serif','Noto Serif CJK SC',serif;fill:#000;font-size:16px">ε<tspan dx="3.2" dy="-0.3" font-size="18">′</tspan></text>
<text transform="translate(365.5,127.5) rotate(-90)" style="font-family:'Liberation Serif','Noto Serif CJK SC',serif;fill:#000;font-size:16px">ε<tspan dx="3.2" dy="-0.3" font-size="18">″</tspan></text>
<text x="65.2" y="298.3" textLength="155.6" lengthAdjust="spacingAndGlyphs" style="font-family:'Liberation Serif','Noto Serif CJK SC',serif;fill:#000;font-size:17.5px">(1) Dielectric constant</text>
<text x="447.2" y="298.3" textLength="143.6" lengthAdjust="spacingAndGlyphs" style="font-family:'Liberation Serif','Noto Serif CJK SC',serif;fill:#000;font-size:17.5px">(2) Dielectric Losses</text>
</svg>
</body></html>
